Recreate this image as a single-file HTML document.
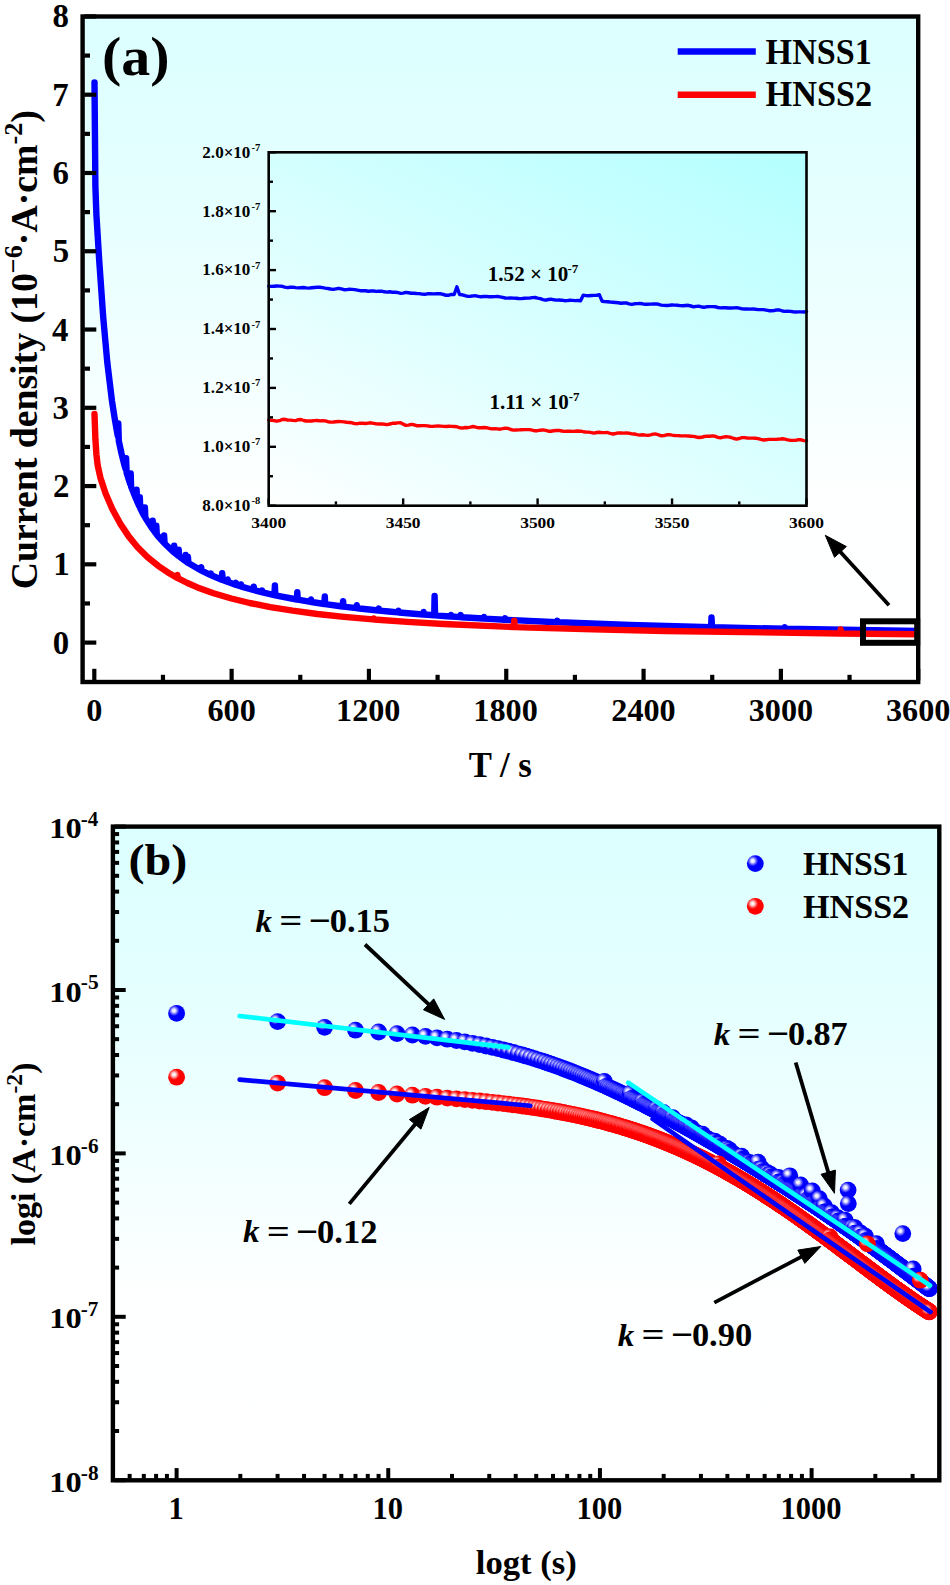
<!DOCTYPE html>
<html><head><meta charset="utf-8"><title>chart</title>
<style>html,body{margin:0;padding:0;background:#fff}svg{display:block}
text{font-family:"Liberation Serif",serif;font-weight:bold}</style></head>
<body><svg width="950" height="1585" viewBox="0 0 950 1585">
<rect width="950" height="1585" fill="#fff"/>
<defs>
<linearGradient id="bgA" gradientUnits="userSpaceOnUse" x1="0" y1="16.5" x2="0" y2="682.0">
<stop offset="0" stop-color="#dcffff"/><stop offset="0.29" stop-color="#e6ffff"/><stop offset="0.44" stop-color="#eeffff"/><stop offset="0.58" stop-color="#f6ffff"/><stop offset="0.72" stop-color="#feffff"/><stop offset="1" stop-color="#ffffff"/></linearGradient>
<linearGradient id="bgB" gradientUnits="userSpaceOnUse" x1="0" y1="826.6" x2="0" y2="1480.3">
<stop offset="0" stop-color="#dcffff"/><stop offset="0.29" stop-color="#e6ffff"/><stop offset="0.44" stop-color="#eeffff"/><stop offset="0.58" stop-color="#f6ffff"/><stop offset="0.72" stop-color="#feffff"/><stop offset="1" stop-color="#ffffff"/></linearGradient>
<linearGradient id="bgI" gradientUnits="userSpaceOnUse" x1="268.7" y1="505.7" x2="519.8" y2="7.4">
<stop offset="0" stop-color="#feffff"/><stop offset="1" stop-color="#b3ffff"/></linearGradient>
<radialGradient id="gB" cx="0.345" cy="0.34" r="0.32" fx="0.345" fy="0.34">
<stop offset="0" stop-color="#ffffff"/><stop offset="0.3" stop-color="#e4e4ff"/><stop offset="0.68" stop-color="#6060ff"/><stop offset="1" stop-color="#0000ff"/></radialGradient>
<radialGradient id="gR" cx="0.345" cy="0.34" r="0.32" fx="0.345" fy="0.34">
<stop offset="0" stop-color="#ffffff"/><stop offset="0.3" stop-color="#ffe4e4"/><stop offset="0.68" stop-color="#ff6060"/><stop offset="1" stop-color="#ff0000"/></radialGradient>
<clipPath id="cA"><rect x="82.6" y="16.5" width="835.6" height="665.5"/></clipPath>
<clipPath id="cB"><rect x="112.9" y="826.6" width="826.4" height="653.7"/></clipPath>
</defs><rect x="82.6" y="16.5" width="835.6" height="665.5" fill="url(#bgA)"/><rect x="268.7" y="152.3" width="537.8" height="353.4" fill="url(#bgI)"/><g clip-path="url(#cA)"><path d="M94.5,82.4 L95.4,186.6 L96.4,214.6 L99.1,258.8 L103.2,317.1 L107.3,362.5 L111.9,400.4 L114.7,418.5 L117.4,434.0 L117.9,436.4 L118.3,423.4 L118.8,441.0 L121.5,453.5 L124.7,466.1 L125.7,469.4 L126.1,458.1 L126.6,472.5 L127.0,474.1 L130.2,484.0 L130.7,473.5 L131.1,486.6 L136.2,499.4 L136.6,489.8 L137.1,501.5 L139.4,506.5 L139.8,497.3 L140.3,508.4 L143.0,513.7 L144.4,516.2 L144.9,507.5 L145.3,517.7 L152.2,528.5 L152.7,520.6 L153.1,529.7 L155.4,532.8 L155.9,533.4 L156.3,525.8 L156.8,534.6 L159.1,537.4 L163.6,542.5 L164.1,535.5 L164.6,543.5 L173.7,552.1 L174.2,545.7 L174.6,552.8 L178.3,555.8 L178.7,549.7 L179.2,556.5 L185.2,560.8 L185.6,555.0 L186.1,561.4 L186.5,561.7 L187.4,562.4 L187.9,556.7 L188.4,563.0 L200.7,570.2 L201.2,567.2 L201.6,570.7 L207.1,573.4 L210.3,574.9 L210.8,573.6 L211.2,575.3 L221.8,579.7 L222.2,573.3 L222.7,580.1 L227.3,581.8 L227.7,579.5 L228.2,582.1 L235.5,584.7 L236.0,582.8 L236.4,585.0 L240.5,586.3 L241.0,584.4 L241.5,586.6 L253.4,590.0 L253.8,586.6 L254.3,590.2 L261.6,592.1 L262.1,590.6 L262.5,592.3 L274.4,595.1 L274.9,585.4 L275.3,595.3 L296.8,599.5 L297.3,592.3 L297.8,599.7 L310.6,601.9 L311.0,599.5 L311.5,602.0 L324.3,604.0 L324.8,596.4 L325.2,604.1 L342.6,606.5 L343.1,601.1 L343.5,606.6 L356.3,608.1 L356.8,605.2 L357.3,608.2 L378.3,610.5 L378.8,608.5 L379.2,610.6 L388.8,611.5 L398.0,612.4 L398.5,610.9 L398.9,612.5 L423.2,614.5 L423.6,612.0 L424.1,614.5 L434.2,615.3 L434.6,595.9 L435.1,615.4 L437.8,615.6 L450.6,616.5 L451.1,615.0 L451.6,616.5 L460.2,617.1 L460.7,615.1 L461.2,617.2 L483.6,618.5 L484.1,617.1 L484.5,618.6 L504.6,619.7 L505.1,618.2 L505.6,619.8 L556.8,622.2 L557.3,620.7 L557.7,622.2 L558.7,622.2 L630.1,624.9 L711.1,627.1 L711.5,617.4 L712.0,627.2 L784.3,628.8 L784.8,627.3 L785.2,628.8 L918.0,630.9" fill="none" stroke="#0000ff" stroke-width="6.4" stroke-linejoin="round" stroke-linecap="round"/><path d="M94.5,414.0 L95.4,439.3 L96.4,454.3 L97.7,465.5 L100.5,478.0 L105.5,493.2 L112.4,509.2 L120.2,523.6 L128.9,536.6 L137.6,547.2 L147.6,557.2 L158.2,565.8 L170.1,573.8 L176.9,577.7 L177.4,575.0 L177.8,578.2 L187.4,583.0 L197.5,587.4 L213.5,593.2 L231.4,598.5 L249.7,603.0 L270.3,607.1 L292.7,610.7 L317.4,614.0 L344.0,616.9 L372.8,619.4 L373.3,619.4 L373.7,618.5 L374.2,619.5 L407.2,621.9 L443.8,624.0 L513.8,627.0 L514.3,620.7 L514.7,627.1 L530.3,627.6 L593.0,629.4 L664.9,631.0 L840.2,633.5 L840.6,629.5 L841.1,633.5 L918.0,634.2" fill="none" stroke="#ff0000" stroke-width="6.4" stroke-linejoin="round" stroke-linecap="round"/></g><rect x="863" y="621.3" width="54.200000000000045" height="21.5" fill="none" stroke="#000" stroke-width="6"/><line x1="889.00" y1="605.30" x2="839.10" y2="550.46" stroke="#000" stroke-width="3.8" stroke-linecap="butt"/><polygon points="825.30,535.30 846.36,546.56 834.53,557.33" fill="#000" stroke="#000" stroke-width="1" stroke-linejoin="round"/><rect x="82.6" y="16.5" width="835.6" height="665.5" fill="none" stroke="#000" stroke-width="4.4"/><line x1="84.30" y1="642.60" x2="96.30" y2="642.60" stroke="#000" stroke-width="4.2" stroke-linecap="butt"/><line x1="84.30" y1="564.33" x2="96.30" y2="564.33" stroke="#000" stroke-width="4.2" stroke-linecap="butt"/><line x1="84.30" y1="486.06" x2="96.30" y2="486.06" stroke="#000" stroke-width="4.2" stroke-linecap="butt"/><line x1="84.30" y1="407.79" x2="96.30" y2="407.79" stroke="#000" stroke-width="4.2" stroke-linecap="butt"/><line x1="84.30" y1="329.52" x2="96.30" y2="329.52" stroke="#000" stroke-width="4.2" stroke-linecap="butt"/><line x1="84.30" y1="251.25" x2="96.30" y2="251.25" stroke="#000" stroke-width="4.2" stroke-linecap="butt"/><line x1="84.30" y1="172.98" x2="96.30" y2="172.98" stroke="#000" stroke-width="4.2" stroke-linecap="butt"/><line x1="84.30" y1="94.71" x2="96.30" y2="94.71" stroke="#000" stroke-width="4.2" stroke-linecap="butt"/><line x1="84.30" y1="16.44" x2="96.30" y2="16.44" stroke="#000" stroke-width="4.2" stroke-linecap="butt"/><line x1="84.30" y1="603.47" x2="90.00" y2="603.47" stroke="#000" stroke-width="4.2" stroke-linecap="butt"/><line x1="84.30" y1="525.20" x2="90.00" y2="525.20" stroke="#000" stroke-width="4.2" stroke-linecap="butt"/><line x1="84.30" y1="446.93" x2="90.00" y2="446.93" stroke="#000" stroke-width="4.2" stroke-linecap="butt"/><line x1="84.30" y1="368.66" x2="90.00" y2="368.66" stroke="#000" stroke-width="4.2" stroke-linecap="butt"/><line x1="84.30" y1="290.39" x2="90.00" y2="290.39" stroke="#000" stroke-width="4.2" stroke-linecap="butt"/><line x1="84.30" y1="212.12" x2="90.00" y2="212.12" stroke="#000" stroke-width="4.2" stroke-linecap="butt"/><line x1="84.30" y1="133.85" x2="90.00" y2="133.85" stroke="#000" stroke-width="4.2" stroke-linecap="butt"/><line x1="84.30" y1="55.58" x2="90.00" y2="55.58" stroke="#000" stroke-width="4.2" stroke-linecap="butt"/><line x1="94.30" y1="680.30" x2="94.30" y2="668.80" stroke="#000" stroke-width="4.2" stroke-linecap="butt"/><line x1="231.62" y1="680.30" x2="231.62" y2="668.80" stroke="#000" stroke-width="4.2" stroke-linecap="butt"/><line x1="368.93" y1="680.30" x2="368.93" y2="668.80" stroke="#000" stroke-width="4.2" stroke-linecap="butt"/><line x1="506.25" y1="680.30" x2="506.25" y2="668.80" stroke="#000" stroke-width="4.2" stroke-linecap="butt"/><line x1="643.57" y1="680.30" x2="643.57" y2="668.80" stroke="#000" stroke-width="4.2" stroke-linecap="butt"/><line x1="780.88" y1="680.30" x2="780.88" y2="668.80" stroke="#000" stroke-width="4.2" stroke-linecap="butt"/><line x1="918.20" y1="680.30" x2="918.20" y2="668.80" stroke="#000" stroke-width="4.2" stroke-linecap="butt"/><line x1="162.96" y1="680.30" x2="162.96" y2="674.80" stroke="#000" stroke-width="4.2" stroke-linecap="butt"/><line x1="300.28" y1="680.30" x2="300.28" y2="674.80" stroke="#000" stroke-width="4.2" stroke-linecap="butt"/><line x1="437.59" y1="680.30" x2="437.59" y2="674.80" stroke="#000" stroke-width="4.2" stroke-linecap="butt"/><line x1="574.91" y1="680.30" x2="574.91" y2="674.80" stroke="#000" stroke-width="4.2" stroke-linecap="butt"/><line x1="712.23" y1="680.30" x2="712.23" y2="674.80" stroke="#000" stroke-width="4.2" stroke-linecap="butt"/><line x1="849.54" y1="680.30" x2="849.54" y2="674.80" stroke="#000" stroke-width="4.2" stroke-linecap="butt"/><text transform="translate(52.73,653.60) scale(0.9660,1)" style="font-size:34px;" fill="#000">0</text><text transform="translate(53.18,575.33) scale(0.9660,1)" style="font-size:34px;" fill="#000">1</text><text transform="translate(52.89,497.06) scale(0.9660,1)" style="font-size:34px;" fill="#000">2</text><text transform="translate(52.60,418.79) scale(0.9660,1)" style="font-size:34px;" fill="#000">3</text><text transform="translate(52.09,340.52) scale(0.9660,1)" style="font-size:34px;" fill="#000">4</text><text transform="translate(52.68,262.25) scale(0.9660,1)" style="font-size:34px;" fill="#000">5</text><text transform="translate(52.44,183.98) scale(0.9660,1)" style="font-size:34px;" fill="#000">6</text><text transform="translate(52.28,105.71) scale(0.9660,1)" style="font-size:34px;" fill="#000">7</text><text transform="translate(52.57,27.44) scale(0.9660,1)" style="font-size:34px;" fill="#000">8</text><text transform="translate(86.25,720.70) scale(1.0000,1)" style="font-size:32.2px;" fill="#000">0</text><text transform="translate(207.53,720.70) scale(1.0000,1)" style="font-size:32.2px;" fill="#000">600</text><text transform="translate(336.06,720.70) scale(1.0000,1)" style="font-size:32.2px;" fill="#000">1200</text><text transform="translate(473.37,720.70) scale(1.0000,1)" style="font-size:32.2px;" fill="#000">1800</text><text transform="translate(611.30,720.70) scale(1.0000,1)" style="font-size:32.2px;" fill="#000">2400</text><text transform="translate(748.69,720.70) scale(1.0000,1)" style="font-size:32.2px;" fill="#000">3000</text><text transform="translate(886.01,720.70) scale(1.0000,1)" style="font-size:32.2px;" fill="#000">3600</text><text transform="translate(468.76,777.00) scale(0.9783,1)" style="font-size:35.5px;" fill="#000">T / s</text><text transform="translate(101.95,74.90) scale(1.0735,1)" style="font-size:54px;" fill="#000">(a)</text><text transform="translate(37.30,589.20) rotate(-90) scale(1.0070,1)" style="font-size:37.5px"><tspan style="font-size:37.5px">Current density (10</tspan><tspan style="font-size:26px" dy="-15.8">−6</tspan><tspan style="font-size:37.5px" dy="15.8">·A·cm</tspan><tspan style="font-size:26px" dy="-15.8">-2</tspan><tspan style="font-size:37.5px" dy="15.8">)</tspan></text><line x1="677.70" y1="51.50" x2="755.80" y2="51.50" stroke="#0000ff" stroke-width="6.5" stroke-linecap="butt"/><line x1="677.70" y1="94.70" x2="755.80" y2="94.70" stroke="#ff0000" stroke-width="6.5" stroke-linecap="butt"/><text transform="translate(765.62,63.60) scale(0.9662,1)" style="font-size:35.3px;" fill="#000">HNSS1</text><text transform="translate(765.61,106.30) scale(0.9699,1)" style="font-size:35.3px;" fill="#000">HNSS2</text><path d="M268.7,286.3 L271.4,286.4 L274.1,286.2 L276.8,286.0 L279.5,286.1 L282.1,286.3 L284.8,287.1 L287.5,287.6 L290.2,287.2 L292.9,287.1 L295.6,287.6 L298.3,287.9 L301.0,287.7 L303.7,287.5 L306.3,287.9 L309.0,288.1 L311.7,287.7 L314.4,287.5 L317.1,287.3 L319.8,287.2 L322.5,287.6 L325.2,288.1 L327.9,288.5 L330.5,289.0 L333.2,289.4 L335.9,288.8 L338.6,288.3 L341.3,288.9 L344.0,289.7 L346.7,289.6 L349.4,289.3 L352.1,289.4 L354.7,289.6 L357.4,290.1 L360.1,290.7 L362.8,290.6 L365.5,290.8 L368.2,291.2 L370.9,291.0 L373.6,291.0 L376.3,291.4 L378.9,291.2 L381.6,291.1 L384.3,291.8 L387.0,292.1 L389.7,291.8 L392.4,292.2 L395.1,292.3 L397.8,292.5 L400.5,293.4 L403.1,293.1 L405.8,292.4 L408.5,292.8 L411.2,293.2 L413.9,293.3 L416.6,293.5 L419.3,293.6 L422.0,294.1 L424.7,294.3 L427.4,293.8 L430.0,293.7 L432.7,293.9 L435.4,293.8 L438.1,293.6 L440.8,293.8 L443.5,294.5 L446.2,295.3 L448.9,295.2 L451.6,294.4 L454.2,294.5 L456.9,286.8 L459.6,294.5 L462.3,294.8 L465.0,295.7 L467.7,296.4 L470.4,296.3 L473.1,295.9 L475.8,295.8 L478.4,296.3 L481.1,296.8 L483.8,296.5 L486.5,296.4 L489.2,296.8 L491.9,296.8 L494.6,296.6 L497.3,296.5 L500.0,296.9 L502.6,297.4 L505.3,298.0 L508.0,298.1 L510.7,298.0 L513.4,298.1 L516.1,298.2 L518.8,298.5 L521.5,298.6 L524.2,298.3 L526.8,298.1 L529.5,298.1 L532.2,297.6 L534.9,297.5 L537.6,298.2 L540.3,298.7 L543.0,299.6 L545.7,300.2 L548.4,299.5 L551.0,299.2 L553.7,299.8 L556.4,300.1 L559.1,300.0 L561.8,300.2 L564.5,300.7 L567.2,300.6 L569.9,300.2 L572.6,300.4 L575.2,300.6 L577.9,300.5 L580.6,300.7 L583.3,295.1 L586.0,295.6 L588.7,295.8 L591.4,295.5 L594.1,295.4 L596.8,295.2 L599.4,294.8 L602.1,301.2 L604.8,301.6 L607.5,301.7 L610.2,302.0 L612.9,302.2 L615.6,302.5 L618.3,302.8 L621.0,303.2 L623.6,303.0 L626.3,302.9 L629.0,303.9 L631.7,304.4 L634.4,303.8 L637.1,303.6 L639.8,303.5 L642.5,303.8 L645.2,304.3 L647.8,304.2 L650.5,304.1 L653.2,304.0 L655.9,303.9 L658.6,304.3 L661.3,305.1 L664.0,305.4 L666.7,305.5 L669.4,305.3 L672.0,305.0 L674.7,305.1 L677.4,305.3 L680.1,305.6 L682.8,305.7 L685.5,305.5 L688.2,305.3 L690.9,306.0 L693.6,306.8 L696.3,306.4 L698.9,306.1 L701.6,307.0 L704.3,307.3 L707.0,306.7 L709.7,306.6 L712.4,306.6 L715.1,306.7 L717.8,307.5 L720.5,307.9 L723.1,307.7 L725.8,307.7 L728.5,308.0 L731.2,308.0 L733.9,307.9 L736.6,307.7 L739.3,308.1 L742.0,308.9 L744.7,309.0 L747.3,309.0 L750.0,309.1 L752.7,308.9 L755.4,309.2 L758.1,309.6 L760.8,309.6 L763.5,309.6 L766.2,310.1 L768.9,310.7 L771.5,310.8 L774.2,310.5 L776.9,309.9 L779.6,310.0 L782.3,311.0 L785.0,311.4 L787.7,311.2 L790.4,311.4 L793.1,311.8 L795.7,312.0 L798.4,311.9 L801.1,311.9 L803.8,312.0 L806.5,311.6" fill="none" stroke="#0000ff" stroke-width="3.4" stroke-linejoin="round" stroke-linecap="round"/><path d="M268.7,420.0 L271.4,420.2 L274.1,420.6 L276.8,421.2 L279.5,420.7 L282.1,419.5 L284.8,419.3 L287.5,420.0 L290.2,420.1 L292.9,420.4 L295.6,420.6 L298.3,419.7 L301.0,419.5 L303.7,420.5 L306.3,421.0 L309.0,421.0 L311.7,421.0 L314.4,420.6 L317.1,420.5 L319.8,420.9 L322.5,420.8 L325.2,420.9 L327.9,421.7 L330.5,422.1 L333.2,422.0 L335.9,421.7 L338.6,421.5 L341.3,421.6 L344.0,421.9 L346.7,422.3 L349.4,422.5 L352.1,422.8 L354.7,423.6 L357.4,423.7 L360.1,423.1 L362.8,423.3 L365.5,423.5 L368.2,423.1 L370.9,422.8 L373.6,423.3 L376.3,423.9 L378.9,424.0 L381.6,423.9 L384.3,424.2 L387.0,424.6 L389.7,424.0 L392.4,423.3 L395.1,423.3 L397.8,422.9 L400.5,422.7 L403.1,424.1 L405.8,425.4 L408.5,425.1 L411.2,424.4 L413.9,424.8 L416.6,425.7 L419.3,425.8 L422.0,425.6 L424.7,425.6 L427.4,425.9 L430.0,426.3 L432.7,426.4 L435.4,426.1 L438.1,425.9 L440.8,426.1 L443.5,426.4 L446.2,426.5 L448.9,426.3 L451.6,426.4 L454.2,426.5 L456.9,426.7 L459.6,427.8 L462.3,428.1 L465.0,427.5 L467.7,427.7 L470.4,427.2 L473.1,426.5 L475.8,427.2 L478.4,427.8 L481.1,427.7 L483.8,427.5 L486.5,427.7 L489.2,428.3 L491.9,428.9 L494.6,428.8 L497.3,428.9 L500.0,429.2 L502.6,428.7 L505.3,428.1 L508.0,428.4 L510.7,429.5 L513.4,430.1 L516.1,430.0 L518.8,429.9 L521.5,429.7 L524.2,429.6 L526.8,429.6 L529.5,429.6 L532.2,430.2 L534.9,430.8 L537.6,430.7 L540.3,430.2 L543.0,429.9 L545.7,430.4 L548.4,431.2 L551.0,431.2 L553.7,430.8 L556.4,430.5 L559.1,430.4 L561.8,431.0 L564.5,431.4 L567.2,431.2 L569.9,431.1 L572.6,431.4 L575.2,431.2 L577.9,431.0 L580.6,431.2 L583.3,431.7 L586.0,432.0 L588.7,432.1 L591.4,432.6 L594.1,433.1 L596.8,432.5 L599.4,432.2 L602.1,432.6 L604.8,432.6 L607.5,432.5 L610.2,433.4 L612.9,434.0 L615.6,433.5 L618.3,432.9 L621.0,433.0 L623.6,433.1 L626.3,432.9 L629.0,433.2 L631.7,433.9 L634.4,434.0 L637.1,434.6 L639.8,435.1 L642.5,434.8 L645.2,435.1 L647.8,435.4 L650.5,434.8 L653.2,434.1 L655.9,434.0 L658.6,434.9 L661.3,435.8 L664.0,435.6 L666.7,434.8 L669.4,434.6 L672.0,435.1 L674.7,435.5 L677.4,435.6 L680.1,435.8 L682.8,435.9 L685.5,435.9 L688.2,436.0 L690.9,436.2 L693.6,436.4 L696.3,437.0 L698.9,437.5 L701.6,437.3 L704.3,436.5 L707.0,436.1 L709.7,436.3 L712.4,435.9 L715.1,436.2 L717.8,437.4 L720.5,437.8 L723.1,437.1 L725.8,436.7 L728.5,436.9 L731.2,437.5 L733.9,438.5 L736.6,439.1 L739.3,438.5 L742.0,437.6 L744.7,437.6 L747.3,438.0 L750.0,438.1 L752.7,438.1 L755.4,438.2 L758.1,438.6 L760.8,439.4 L763.5,440.0 L766.2,439.7 L768.9,439.4 L771.5,439.4 L774.2,439.4 L776.9,439.3 L779.6,439.1 L782.3,438.8 L785.0,439.1 L787.7,439.9 L790.4,440.2 L793.1,440.4 L795.7,440.4 L798.4,439.7 L801.1,439.8 L803.8,440.6 L806.5,440.9" fill="none" stroke="#ff0000" stroke-width="3.4" stroke-linejoin="round" stroke-linecap="round"/><rect x="268.7" y="152.3" width="537.8" height="353.4" fill="none" stroke="#000" stroke-width="2.6"/><line x1="269.70" y1="505.70" x2="276.00" y2="505.70" stroke="#000" stroke-width="2.4" stroke-linecap="butt"/><line x1="269.70" y1="446.80" x2="276.00" y2="446.80" stroke="#000" stroke-width="2.4" stroke-linecap="butt"/><line x1="269.70" y1="387.90" x2="276.00" y2="387.90" stroke="#000" stroke-width="2.4" stroke-linecap="butt"/><line x1="269.70" y1="329.00" x2="276.00" y2="329.00" stroke="#000" stroke-width="2.4" stroke-linecap="butt"/><line x1="269.70" y1="270.10" x2="276.00" y2="270.10" stroke="#000" stroke-width="2.4" stroke-linecap="butt"/><line x1="269.70" y1="211.20" x2="276.00" y2="211.20" stroke="#000" stroke-width="2.4" stroke-linecap="butt"/><line x1="269.70" y1="152.30" x2="276.00" y2="152.30" stroke="#000" stroke-width="2.4" stroke-linecap="butt"/><line x1="269.70" y1="476.25" x2="273.00" y2="476.25" stroke="#000" stroke-width="2.4" stroke-linecap="butt"/><line x1="269.70" y1="417.35" x2="273.00" y2="417.35" stroke="#000" stroke-width="2.4" stroke-linecap="butt"/><line x1="269.70" y1="358.45" x2="273.00" y2="358.45" stroke="#000" stroke-width="2.4" stroke-linecap="butt"/><line x1="269.70" y1="299.55" x2="273.00" y2="299.55" stroke="#000" stroke-width="2.4" stroke-linecap="butt"/><line x1="269.70" y1="240.65" x2="273.00" y2="240.65" stroke="#000" stroke-width="2.4" stroke-linecap="butt"/><line x1="269.70" y1="181.75" x2="273.00" y2="181.75" stroke="#000" stroke-width="2.4" stroke-linecap="butt"/><line x1="268.70" y1="504.70" x2="268.70" y2="498.40" stroke="#000" stroke-width="2.4" stroke-linecap="butt"/><line x1="403.15" y1="504.70" x2="403.15" y2="498.40" stroke="#000" stroke-width="2.4" stroke-linecap="butt"/><line x1="537.60" y1="504.70" x2="537.60" y2="498.40" stroke="#000" stroke-width="2.4" stroke-linecap="butt"/><line x1="672.05" y1="504.70" x2="672.05" y2="498.40" stroke="#000" stroke-width="2.4" stroke-linecap="butt"/><line x1="806.50" y1="504.70" x2="806.50" y2="498.40" stroke="#000" stroke-width="2.4" stroke-linecap="butt"/><line x1="335.92" y1="504.70" x2="335.92" y2="501.40" stroke="#000" stroke-width="2.4" stroke-linecap="butt"/><line x1="470.38" y1="504.70" x2="470.38" y2="501.40" stroke="#000" stroke-width="2.4" stroke-linecap="butt"/><line x1="604.83" y1="504.70" x2="604.83" y2="501.40" stroke="#000" stroke-width="2.4" stroke-linecap="butt"/><line x1="739.27" y1="504.70" x2="739.27" y2="501.40" stroke="#000" stroke-width="2.4" stroke-linecap="butt"/><text transform="translate(251.50,504.20) scale(1.0000,1)" style="font-size:10.5px;" fill="#000">-8</text><text transform="translate(202.35,511.00) scale(1.0660,1)" style="font-size:16px;" fill="#000">8.0×10</text><text transform="translate(251.41,445.30) scale(1.0000,1)" style="font-size:10.5px;" fill="#000">-7</text><text transform="translate(202.35,452.10) scale(1.0660,1)" style="font-size:16px;" fill="#000">1.0×10</text><text transform="translate(251.41,386.40) scale(1.0000,1)" style="font-size:10.5px;" fill="#000">-7</text><text transform="translate(202.35,393.20) scale(1.0660,1)" style="font-size:16px;" fill="#000">1.2×10</text><text transform="translate(251.41,327.50) scale(1.0000,1)" style="font-size:10.5px;" fill="#000">-7</text><text transform="translate(202.35,334.30) scale(1.0660,1)" style="font-size:16px;" fill="#000">1.4×10</text><text transform="translate(251.41,268.60) scale(1.0000,1)" style="font-size:10.5px;" fill="#000">-7</text><text transform="translate(202.35,275.40) scale(1.0660,1)" style="font-size:16px;" fill="#000">1.6×10</text><text transform="translate(251.41,209.70) scale(1.0000,1)" style="font-size:10.5px;" fill="#000">-7</text><text transform="translate(202.35,216.50) scale(1.0660,1)" style="font-size:16px;" fill="#000">1.8×10</text><text transform="translate(251.41,150.80) scale(1.0000,1)" style="font-size:10.5px;" fill="#000">-7</text><text transform="translate(202.35,157.60) scale(1.0660,1)" style="font-size:16px;" fill="#000">2.0×10</text><text transform="translate(251.30,527.60) scale(1.1231,1)" style="font-size:15.5px;" fill="#000">3400</text><text transform="translate(385.75,527.60) scale(1.1231,1)" style="font-size:15.5px;" fill="#000">3450</text><text transform="translate(520.20,527.60) scale(1.1231,1)" style="font-size:15.5px;" fill="#000">3500</text><text transform="translate(654.65,527.60) scale(1.1231,1)" style="font-size:15.5px;" fill="#000">3550</text><text transform="translate(789.10,527.60) scale(1.1231,1)" style="font-size:15.5px;" fill="#000">3600</text><text transform="translate(487.81,280.90) scale(1.0536,1)" style="font-size:20px;" fill="#000">1.52 × 10</text><text transform="translate(567.39,272.70) scale(1.0000,1)" style="font-size:13px;" fill="#000">-7</text><text transform="translate(489.41,408.70) scale(1.0536,1)" style="font-size:20px;" fill="#000">1.11 × 10</text><text transform="translate(568.69,400.50) scale(1.0000,1)" style="font-size:13px;" fill="#000">-7</text><rect x="112.9" y="826.6" width="826.4" height="653.6999999999999" fill="url(#bgB)"/><g clip-path="url(#cB)"><g fill="url(#gB)"><circle cx="176.6" cy="1013.3" r="8.4"/><circle cx="277.6" cy="1021.6" r="8.4"/><circle cx="324.6" cy="1027.3" r="8.4"/><circle cx="355.5" cy="1030.2" r="8.4"/><circle cx="378.6" cy="1032.0" r="8.4"/><circle cx="397.0" cy="1033.6" r="8.4"/><circle cx="412.4" cy="1035.0" r="8.4"/><circle cx="425.5" cy="1036.4" r="8.4"/><circle cx="437.0" cy="1037.8" r="8.4"/><circle cx="447.3" cy="1039.2" r="8.4"/><circle cx="456.5" cy="1040.5" r="8.4"/><circle cx="464.8" cy="1041.9" r="8.4"/><circle cx="472.5" cy="1043.3" r="8.4"/><circle cx="479.6" cy="1044.6" r="8.4"/><circle cx="486.1" cy="1046.0" r="8.4"/><circle cx="492.3" cy="1047.3" r="8.4"/><circle cx="498.0" cy="1048.6" r="8.4"/><circle cx="503.4" cy="1050.0" r="8.4"/><circle cx="508.5" cy="1051.2" r="8.4"/><circle cx="513.4" cy="1052.5" r="8.4"/><circle cx="518.0" cy="1053.8" r="8.4"/><circle cx="522.4" cy="1055.0" r="8.4"/><circle cx="526.5" cy="1056.2" r="8.4"/><circle cx="530.5" cy="1057.4" r="8.4"/><circle cx="534.4" cy="1058.6" r="8.4"/><circle cx="538.0" cy="1059.8" r="8.4"/><circle cx="541.6" cy="1060.9" r="8.4"/><circle cx="545.0" cy="1062.0" r="8.4"/><circle cx="548.3" cy="1063.2" r="8.4"/><circle cx="551.4" cy="1064.2" r="8.4"/><circle cx="554.5" cy="1065.3" r="8.4"/><circle cx="557.5" cy="1066.4" r="8.4"/><circle cx="560.3" cy="1067.4" r="8.4"/><circle cx="563.1" cy="1068.5" r="8.4"/><circle cx="565.8" cy="1069.5" r="8.4"/><circle cx="568.5" cy="1070.5" r="8.4"/><circle cx="571.0" cy="1071.5" r="8.4"/><circle cx="573.5" cy="1072.4" r="8.4"/><circle cx="575.9" cy="1073.4" r="8.4"/><circle cx="578.3" cy="1074.3" r="8.4"/><circle cx="580.6" cy="1075.3" r="8.4"/><circle cx="582.8" cy="1076.2" r="8.4"/><circle cx="585.0" cy="1077.1" r="8.4"/><circle cx="587.1" cy="1078.0" r="8.4"/><circle cx="589.2" cy="1078.9" r="8.4"/><circle cx="591.3" cy="1079.7" r="8.4"/><circle cx="593.3" cy="1080.6" r="8.4"/><circle cx="595.2" cy="1081.4" r="8.4"/><circle cx="597.1" cy="1082.3" r="8.4"/><circle cx="599.0" cy="1083.1" r="8.4"/><circle cx="600.9" cy="1083.9" r="8.4"/><circle cx="602.7" cy="1084.7" r="8.4"/><circle cx="604.4" cy="1081.4" r="8.4"/><circle cx="606.2" cy="1086.3" r="8.4"/><circle cx="607.9" cy="1087.0" r="8.4"/><circle cx="609.5" cy="1087.8" r="8.4"/><circle cx="611.2" cy="1088.6" r="8.4"/><circle cx="612.8" cy="1089.3" r="8.4"/><circle cx="614.4" cy="1090.0" r="8.4"/><circle cx="615.9" cy="1090.8" r="8.4"/><circle cx="617.5" cy="1091.5" r="8.4"/><circle cx="619.0" cy="1092.2" r="8.4"/><circle cx="620.5" cy="1092.9" r="8.4"/><circle cx="621.9" cy="1093.6" r="8.4"/><circle cx="623.3" cy="1094.3" r="8.4"/><circle cx="624.8" cy="1095.0" r="8.4"/><circle cx="626.2" cy="1095.6" r="8.4"/><circle cx="627.5" cy="1096.3" r="8.4"/><circle cx="628.9" cy="1097.0" r="8.4"/><circle cx="630.2" cy="1093.5" r="8.4"/><circle cx="631.5" cy="1098.3" r="8.4"/><circle cx="632.8" cy="1098.9" r="8.4"/><circle cx="634.1" cy="1099.5" r="8.4"/><circle cx="635.4" cy="1100.2" r="8.4"/><circle cx="636.6" cy="1100.8" r="8.4"/><circle cx="637.8" cy="1101.4" r="8.4"/><circle cx="639.0" cy="1102.0" r="8.4"/><circle cx="640.2" cy="1102.6" r="8.4"/><circle cx="641.4" cy="1103.2" r="8.4"/><circle cx="642.6" cy="1101.7" r="8.4"/><circle cx="643.7" cy="1104.4" r="8.4"/><circle cx="644.9" cy="1104.9" r="8.4"/><circle cx="646.0" cy="1105.5" r="8.4"/><circle cx="647.1" cy="1106.1" r="8.4"/><circle cx="648.2" cy="1106.6" r="8.4"/><circle cx="649.3" cy="1107.2" r="8.4"/><circle cx="650.3" cy="1107.7" r="8.4"/><circle cx="651.4" cy="1108.3" r="8.4"/><circle cx="652.4" cy="1108.8" r="8.4"/><circle cx="653.5" cy="1109.4" r="8.4"/><circle cx="654.5" cy="1109.9" r="8.4"/><circle cx="655.5" cy="1110.4" r="8.4"/><circle cx="656.5" cy="1108.9" r="8.4"/><circle cx="657.5" cy="1111.5" r="8.4"/><circle cx="658.5" cy="1112.0" r="8.4"/><circle cx="659.4" cy="1112.5" r="8.4"/><circle cx="660.4" cy="1113.0" r="8.4"/><circle cx="661.3" cy="1113.5" r="8.4"/><circle cx="662.3" cy="1114.0" r="8.4"/><circle cx="663.2" cy="1112.4" r="8.4"/><circle cx="664.1" cy="1115.0" r="8.4"/><circle cx="665.0" cy="1115.5" r="8.4"/><circle cx="665.9" cy="1116.0" r="8.4"/><circle cx="666.8" cy="1116.4" r="8.4"/><circle cx="667.7" cy="1116.9" r="8.4"/><circle cx="668.6" cy="1117.4" r="8.4"/><circle cx="669.4" cy="1117.8" r="8.4"/><circle cx="670.3" cy="1118.3" r="8.4"/><circle cx="671.2" cy="1118.8" r="8.4"/><circle cx="672.0" cy="1119.2" r="8.4"/><circle cx="672.8" cy="1117.6" r="8.4"/><circle cx="673.7" cy="1120.1" r="8.4"/><circle cx="674.5" cy="1120.6" r="8.4"/><circle cx="675.3" cy="1121.0" r="8.4"/><circle cx="676.1" cy="1121.5" r="8.4"/><circle cx="676.9" cy="1121.9" r="8.4"/><circle cx="677.7" cy="1122.3" r="8.4"/><circle cx="678.5" cy="1122.8" r="8.4"/><circle cx="679.3" cy="1123.2" r="8.4"/><circle cx="680.0" cy="1123.6" r="8.4"/><circle cx="680.8" cy="1124.0" r="8.4"/><circle cx="681.6" cy="1124.4" r="8.4"/><circle cx="682.3" cy="1124.9" r="8.4"/><circle cx="683.1" cy="1125.3" r="8.4"/><circle cx="683.8" cy="1125.7" r="8.4"/><circle cx="684.5" cy="1126.1" r="8.4"/><circle cx="685.3" cy="1126.5" r="8.4"/><circle cx="686.0" cy="1124.8" r="8.4"/><circle cx="686.7" cy="1127.3" r="8.4"/><circle cx="687.4" cy="1127.7" r="8.4"/><circle cx="688.1" cy="1128.1" r="8.4"/><circle cx="688.8" cy="1128.5" r="8.4"/><circle cx="689.5" cy="1128.9" r="8.4"/><circle cx="690.2" cy="1129.3" r="8.4"/><circle cx="690.9" cy="1129.6" r="8.4"/><circle cx="691.6" cy="1128.0" r="8.4"/><circle cx="692.3" cy="1130.4" r="8.4"/><circle cx="692.9" cy="1130.8" r="8.4"/><circle cx="693.6" cy="1131.2" r="8.4"/><circle cx="694.3" cy="1131.5" r="8.4"/><circle cx="694.9" cy="1131.9" r="8.4"/><circle cx="695.6" cy="1132.3" r="8.4"/><circle cx="696.2" cy="1132.6" r="8.4"/><circle cx="696.9" cy="1133.0" r="8.4"/><circle cx="697.5" cy="1133.4" r="8.4"/><circle cx="698.1" cy="1133.7" r="8.4"/><circle cx="698.8" cy="1134.1" r="8.4"/><circle cx="699.4" cy="1134.4" r="8.4"/><circle cx="700.0" cy="1134.8" r="8.4"/><circle cx="700.6" cy="1135.1" r="8.4"/><circle cx="701.2" cy="1135.5" r="8.4"/><circle cx="701.8" cy="1135.8" r="8.4"/><circle cx="702.5" cy="1134.1" r="8.4"/><circle cx="703.1" cy="1136.5" r="8.4"/><circle cx="703.6" cy="1136.9" r="8.4"/><circle cx="704.2" cy="1137.2" r="8.4"/><circle cx="704.8" cy="1137.5" r="8.4"/><circle cx="705.4" cy="1137.9" r="8.4"/><circle cx="706.0" cy="1138.2" r="8.4"/><circle cx="706.6" cy="1138.5" r="8.4"/><circle cx="707.2" cy="1138.9" r="8.4"/><circle cx="707.7" cy="1139.2" r="8.4"/><circle cx="708.3" cy="1139.5" r="8.4"/><circle cx="708.9" cy="1139.8" r="8.4"/><circle cx="709.4" cy="1140.2" r="8.4"/><circle cx="710.0" cy="1140.5" r="8.4"/><circle cx="710.5" cy="1140.8" r="8.4"/><circle cx="711.1" cy="1141.1" r="8.4"/><circle cx="711.6" cy="1141.4" r="8.4"/><circle cx="712.2" cy="1141.8" r="8.4"/><circle cx="712.7" cy="1142.1" r="8.4"/><circle cx="713.2" cy="1142.4" r="8.4"/><circle cx="713.8" cy="1142.7" r="8.4"/><circle cx="714.3" cy="1143.0" r="8.4"/><circle cx="714.8" cy="1141.2" r="8.4"/><circle cx="715.4" cy="1143.6" r="8.4"/><circle cx="715.9" cy="1143.9" r="8.4"/><circle cx="716.4" cy="1144.2" r="8.4"/><circle cx="716.9" cy="1144.5" r="8.4"/><circle cx="717.4" cy="1144.8" r="8.4"/><circle cx="717.9" cy="1145.1" r="8.4"/><circle cx="718.5" cy="1145.4" r="8.4"/><circle cx="719.0" cy="1145.7" r="8.4"/><circle cx="719.5" cy="1146.0" r="8.4"/><circle cx="720.0" cy="1144.2" r="8.4"/><circle cx="720.5" cy="1146.6" r="8.4"/><circle cx="721.0" cy="1146.9" r="8.4"/><circle cx="721.4" cy="1147.2" r="8.4"/><circle cx="721.9" cy="1147.4" r="8.4"/><circle cx="722.4" cy="1147.7" r="8.4"/><circle cx="722.9" cy="1148.0" r="8.4"/><circle cx="723.4" cy="1148.3" r="8.4"/><circle cx="723.9" cy="1148.6" r="8.4"/><circle cx="724.3" cy="1148.9" r="8.4"/><circle cx="724.8" cy="1149.1" r="8.4"/><circle cx="725.3" cy="1149.4" r="8.4"/><circle cx="725.8" cy="1149.7" r="8.4"/><circle cx="726.2" cy="1150.0" r="8.4"/><circle cx="726.7" cy="1150.2" r="8.4"/><circle cx="727.1" cy="1148.5" r="8.4"/><circle cx="727.6" cy="1150.8" r="8.4"/><circle cx="728.1" cy="1151.1" r="8.4"/><circle cx="728.5" cy="1151.3" r="8.4"/><circle cx="729.0" cy="1151.6" r="8.4"/><circle cx="729.4" cy="1149.8" r="8.4"/><circle cx="729.9" cy="1152.1" r="8.4"/><circle cx="730.3" cy="1152.4" r="8.4"/><circle cx="730.8" cy="1152.7" r="8.4"/><circle cx="731.2" cy="1152.9" r="8.4"/><circle cx="731.6" cy="1153.2" r="8.4"/><circle cx="732.1" cy="1153.4" r="8.4"/><circle cx="732.5" cy="1153.7" r="8.4"/><circle cx="733.0" cy="1154.0" r="8.4"/><circle cx="733.4" cy="1154.2" r="8.4"/><circle cx="733.8" cy="1154.5" r="8.4"/><circle cx="734.2" cy="1154.7" r="8.4"/><circle cx="734.7" cy="1155.0" r="8.4"/><circle cx="735.1" cy="1155.2" r="8.4"/><circle cx="735.5" cy="1155.5" r="8.4"/><circle cx="735.9" cy="1155.7" r="8.4"/><circle cx="736.3" cy="1156.0" r="8.4"/><circle cx="736.8" cy="1156.2" r="8.4"/><circle cx="737.2" cy="1156.5" r="8.4"/><circle cx="737.6" cy="1156.7" r="8.4"/><circle cx="738.0" cy="1157.0" r="8.4"/><circle cx="738.4" cy="1157.2" r="8.4"/><circle cx="738.8" cy="1157.5" r="8.4"/><circle cx="739.2" cy="1157.7" r="8.4"/><circle cx="739.6" cy="1157.9" r="8.4"/><circle cx="740.0" cy="1158.2" r="8.4"/><circle cx="740.4" cy="1158.4" r="8.4"/><circle cx="740.8" cy="1158.7" r="8.4"/><circle cx="741.2" cy="1158.9" r="8.4"/><circle cx="741.6" cy="1156.1" r="8.4"/><circle cx="742.0" cy="1159.4" r="8.4"/><circle cx="742.4" cy="1159.6" r="8.4"/><circle cx="742.8" cy="1159.9" r="8.4"/><circle cx="743.2" cy="1160.1" r="8.4"/><circle cx="743.6" cy="1160.3" r="8.4"/><circle cx="743.9" cy="1160.6" r="8.4"/><circle cx="744.3" cy="1160.8" r="8.4"/><circle cx="744.7" cy="1161.0" r="8.4"/><circle cx="745.1" cy="1161.2" r="8.4"/><circle cx="745.5" cy="1161.5" r="8.4"/><circle cx="745.8" cy="1161.7" r="8.4"/><circle cx="746.2" cy="1161.9" r="8.4"/><circle cx="746.6" cy="1162.2" r="8.4"/><circle cx="747.0" cy="1162.4" r="8.4"/><circle cx="747.3" cy="1162.6" r="8.4"/><circle cx="747.7" cy="1162.8" r="8.4"/><circle cx="748.1" cy="1163.1" r="8.4"/><circle cx="748.4" cy="1163.3" r="8.4"/><circle cx="748.8" cy="1163.5" r="8.4"/><circle cx="749.2" cy="1163.7" r="8.4"/><circle cx="749.5" cy="1162.4" r="8.4"/><circle cx="749.9" cy="1164.2" r="8.4"/><circle cx="750.3" cy="1164.4" r="8.4"/><circle cx="750.6" cy="1164.6" r="8.4"/><circle cx="751.0" cy="1164.8" r="8.4"/><circle cx="751.3" cy="1165.0" r="8.4"/><circle cx="751.7" cy="1165.2" r="8.4"/><circle cx="752.0" cy="1165.5" r="8.4"/><circle cx="752.4" cy="1165.7" r="8.4"/><circle cx="752.7" cy="1165.9" r="8.4"/><circle cx="753.1" cy="1166.1" r="8.4"/><circle cx="753.4" cy="1166.3" r="8.4"/><circle cx="753.8" cy="1166.5" r="8.4"/><circle cx="754.1" cy="1166.7" r="8.4"/><circle cx="754.5" cy="1166.9" r="8.4"/><circle cx="754.8" cy="1167.2" r="8.4"/><circle cx="755.1" cy="1167.4" r="8.4"/><circle cx="755.5" cy="1167.6" r="8.4"/><circle cx="755.8" cy="1167.8" r="8.4"/><circle cx="756.1" cy="1168.0" r="8.4"/><circle cx="756.5" cy="1168.2" r="8.4"/><circle cx="756.8" cy="1168.4" r="8.4"/><circle cx="757.2" cy="1168.6" r="8.4"/><circle cx="757.5" cy="1168.8" r="8.4"/><circle cx="757.8" cy="1169.0" r="8.4"/><circle cx="758.1" cy="1162.1" r="8.4"/><circle cx="758.5" cy="1169.4" r="8.4"/><circle cx="758.8" cy="1169.6" r="8.4"/><circle cx="759.1" cy="1169.8" r="8.4"/><circle cx="759.5" cy="1170.0" r="8.4"/><circle cx="759.8" cy="1170.2" r="8.4"/><circle cx="760.1" cy="1170.4" r="8.4"/><circle cx="760.4" cy="1170.6" r="8.4"/><circle cx="760.7" cy="1170.8" r="8.4"/><circle cx="761.1" cy="1171.0" r="8.4"/><circle cx="761.4" cy="1171.2" r="8.4"/><circle cx="761.7" cy="1171.4" r="8.4"/><circle cx="762.0" cy="1168.7" r="8.4"/><circle cx="762.3" cy="1171.8" r="8.4"/><circle cx="762.6" cy="1172.0" r="8.4"/><circle cx="763.0" cy="1172.2" r="8.4"/><circle cx="763.3" cy="1172.4" r="8.4"/><circle cx="763.6" cy="1172.6" r="8.4"/><circle cx="763.9" cy="1172.8" r="8.4"/><circle cx="764.2" cy="1172.9" r="8.4"/><circle cx="764.5" cy="1173.1" r="8.4"/><circle cx="764.8" cy="1173.3" r="8.4"/><circle cx="765.1" cy="1173.5" r="8.4"/><circle cx="765.4" cy="1173.7" r="8.4"/><circle cx="765.7" cy="1173.9" r="8.4"/><circle cx="766.0" cy="1174.1" r="8.4"/><circle cx="766.3" cy="1174.3" r="8.4"/><circle cx="766.6" cy="1174.5" r="8.4"/><circle cx="766.9" cy="1174.6" r="8.4"/><circle cx="767.2" cy="1174.8" r="8.4"/><circle cx="767.5" cy="1172.6" r="8.4"/><circle cx="767.8" cy="1175.2" r="8.4"/><circle cx="768.1" cy="1175.4" r="8.4"/><circle cx="768.4" cy="1175.6" r="8.4"/><circle cx="768.7" cy="1175.8" r="8.4"/><circle cx="769.0" cy="1175.9" r="8.4"/><circle cx="769.3" cy="1176.1" r="8.4"/><circle cx="769.6" cy="1176.3" r="8.4"/><circle cx="769.9" cy="1176.5" r="8.4"/><circle cx="770.2" cy="1176.7" r="8.4"/><circle cx="770.4" cy="1176.8" r="8.4"/><circle cx="770.7" cy="1174.5" r="8.4"/><circle cx="771.0" cy="1177.2" r="8.4"/><circle cx="771.3" cy="1177.4" r="8.4"/><circle cx="771.6" cy="1177.6" r="8.4"/><circle cx="771.9" cy="1177.7" r="8.4"/><circle cx="772.2" cy="1177.9" r="8.4"/><circle cx="772.4" cy="1178.1" r="8.4"/><circle cx="772.7" cy="1178.3" r="8.4"/><circle cx="773.0" cy="1178.4" r="8.4"/><circle cx="773.3" cy="1178.6" r="8.4"/><circle cx="773.6" cy="1178.8" r="8.4"/><circle cx="773.8" cy="1179.0" r="8.4"/><circle cx="774.1" cy="1179.1" r="8.4"/><circle cx="774.4" cy="1179.3" r="8.4"/><circle cx="774.7" cy="1179.5" r="8.4"/><circle cx="774.9" cy="1179.7" r="8.4"/><circle cx="775.2" cy="1179.8" r="8.4"/><circle cx="775.5" cy="1180.0" r="8.4"/><circle cx="775.8" cy="1180.2" r="8.4"/><circle cx="776.0" cy="1180.3" r="8.4"/><circle cx="776.3" cy="1180.5" r="8.4"/><circle cx="776.6" cy="1180.7" r="8.4"/><circle cx="776.8" cy="1180.9" r="8.4"/><circle cx="777.1" cy="1181.0" r="8.4"/><circle cx="777.4" cy="1181.2" r="8.4"/><circle cx="777.6" cy="1181.4" r="8.4"/><circle cx="777.9" cy="1181.5" r="8.4"/><circle cx="778.2" cy="1181.7" r="8.4"/><circle cx="778.4" cy="1177.3" r="8.4"/><circle cx="778.7" cy="1182.0" r="8.4"/><circle cx="779.0" cy="1182.2" r="8.4"/><circle cx="779.2" cy="1182.4" r="8.4"/><circle cx="779.5" cy="1182.5" r="8.4"/><circle cx="779.7" cy="1182.7" r="8.4"/><circle cx="780.0" cy="1182.9" r="8.4"/><circle cx="780.3" cy="1183.0" r="8.4"/><circle cx="780.5" cy="1183.2" r="8.4"/><circle cx="780.8" cy="1183.3" r="8.4"/><circle cx="781.0" cy="1183.5" r="8.4"/><circle cx="781.3" cy="1183.7" r="8.4"/><circle cx="781.5" cy="1183.8" r="8.4"/><circle cx="781.8" cy="1184.0" r="8.4"/><circle cx="782.0" cy="1184.2" r="8.4"/><circle cx="782.3" cy="1184.3" r="8.4"/><circle cx="782.8" cy="1184.6" r="8.4"/><circle cx="783.1" cy="1182.6" r="8.4"/><circle cx="783.3" cy="1185.0" r="8.4"/><circle cx="783.8" cy="1185.3" r="8.4"/><circle cx="784.3" cy="1185.6" r="8.4"/><circle cx="784.8" cy="1185.9" r="8.4"/><circle cx="785.3" cy="1186.2" r="8.4"/><circle cx="785.8" cy="1186.5" r="8.4"/><circle cx="786.3" cy="1186.8" r="8.4"/><circle cx="786.7" cy="1187.2" r="8.4"/><circle cx="787.2" cy="1187.5" r="8.4"/><circle cx="787.7" cy="1187.8" r="8.4"/><circle cx="788.2" cy="1188.1" r="8.4"/><circle cx="788.7" cy="1188.4" r="8.4"/><circle cx="789.1" cy="1188.7" r="8.4"/><circle cx="789.6" cy="1189.0" r="8.4"/><circle cx="789.8" cy="1175.8" r="8.4"/><circle cx="790.1" cy="1189.3" r="8.4"/><circle cx="790.5" cy="1189.6" r="8.4"/><circle cx="791.0" cy="1189.9" r="8.4"/><circle cx="791.4" cy="1190.2" r="8.4"/><circle cx="791.9" cy="1190.5" r="8.4"/><circle cx="792.4" cy="1190.8" r="8.4"/><circle cx="792.8" cy="1191.0" r="8.4"/><circle cx="793.3" cy="1191.3" r="8.4"/><circle cx="793.7" cy="1191.6" r="8.4"/><circle cx="794.1" cy="1191.9" r="8.4"/><circle cx="794.6" cy="1192.2" r="8.4"/><circle cx="795.0" cy="1192.5" r="8.4"/><circle cx="795.5" cy="1192.8" r="8.4"/><circle cx="795.9" cy="1193.1" r="8.4"/><circle cx="796.3" cy="1193.3" r="8.4"/><circle cx="796.8" cy="1193.6" r="8.4"/><circle cx="797.2" cy="1193.9" r="8.4"/><circle cx="797.6" cy="1194.2" r="8.4"/><circle cx="798.1" cy="1194.5" r="8.4"/><circle cx="798.5" cy="1194.7" r="8.4"/><circle cx="798.9" cy="1195.0" r="8.4"/><circle cx="799.3" cy="1195.3" r="8.4"/><circle cx="799.8" cy="1195.6" r="8.4"/><circle cx="800.2" cy="1195.8" r="8.4"/><circle cx="800.6" cy="1185.0" r="8.4"/><circle cx="800.8" cy="1196.2" r="8.4"/><circle cx="801.2" cy="1196.5" r="8.4"/><circle cx="801.6" cy="1196.8" r="8.4"/><circle cx="802.0" cy="1197.0" r="8.4"/><circle cx="802.4" cy="1197.3" r="8.4"/><circle cx="802.8" cy="1197.6" r="8.4"/><circle cx="803.2" cy="1197.8" r="8.4"/><circle cx="803.6" cy="1198.1" r="8.4"/><circle cx="804.0" cy="1198.4" r="8.4"/><circle cx="804.4" cy="1198.6" r="8.4"/><circle cx="804.8" cy="1198.9" r="8.4"/><circle cx="805.2" cy="1199.1" r="8.4"/><circle cx="805.6" cy="1199.4" r="8.4"/><circle cx="806.0" cy="1199.7" r="8.4"/><circle cx="806.4" cy="1199.9" r="8.4"/><circle cx="806.6" cy="1195.8" r="8.4"/><circle cx="806.8" cy="1200.2" r="8.4"/><circle cx="807.2" cy="1200.4" r="8.4"/><circle cx="807.6" cy="1200.7" r="8.4"/><circle cx="808.0" cy="1200.9" r="8.4"/><circle cx="808.3" cy="1201.2" r="8.4"/><circle cx="808.7" cy="1201.4" r="8.4"/><circle cx="809.1" cy="1201.7" r="8.4"/><circle cx="809.5" cy="1201.9" r="8.4"/><circle cx="809.8" cy="1202.2" r="8.4"/><circle cx="810.2" cy="1202.4" r="8.4"/><circle cx="810.6" cy="1202.7" r="8.4"/><circle cx="811.0" cy="1202.9" r="8.4"/><circle cx="811.3" cy="1203.2" r="8.4"/><circle cx="811.7" cy="1203.4" r="8.4"/><circle cx="812.1" cy="1203.7" r="8.4"/><circle cx="812.3" cy="1191.0" r="8.4"/><circle cx="812.4" cy="1203.9" r="8.4"/><circle cx="812.8" cy="1204.1" r="8.4"/><circle cx="813.2" cy="1204.4" r="8.4"/><circle cx="813.5" cy="1204.6" r="8.4"/><circle cx="813.9" cy="1204.9" r="8.4"/><circle cx="814.2" cy="1205.1" r="8.4"/><circle cx="814.6" cy="1205.3" r="8.4"/><circle cx="814.9" cy="1205.6" r="8.4"/><circle cx="815.3" cy="1205.8" r="8.4"/><circle cx="815.7" cy="1206.1" r="8.4"/><circle cx="816.0" cy="1206.3" r="8.4"/><circle cx="816.4" cy="1206.5" r="8.4"/><circle cx="816.7" cy="1206.8" r="8.4"/><circle cx="817.1" cy="1207.0" r="8.4"/><circle cx="817.4" cy="1207.2" r="8.4"/><circle cx="817.7" cy="1207.4" r="8.4"/><circle cx="818.1" cy="1207.7" r="8.4"/><circle cx="818.4" cy="1207.9" r="8.4"/><circle cx="818.8" cy="1208.1" r="8.4"/><circle cx="819.1" cy="1208.4" r="8.4"/><circle cx="819.3" cy="1198.6" r="8.4"/><circle cx="819.4" cy="1208.6" r="8.4"/><circle cx="819.8" cy="1208.8" r="8.4"/><circle cx="820.1" cy="1209.0" r="8.4"/><circle cx="820.5" cy="1209.3" r="8.4"/><circle cx="820.8" cy="1209.5" r="8.4"/><circle cx="821.1" cy="1209.7" r="8.4"/><circle cx="821.5" cy="1209.9" r="8.4"/><circle cx="821.8" cy="1210.2" r="8.4"/><circle cx="822.1" cy="1210.4" r="8.4"/><circle cx="822.4" cy="1210.6" r="8.4"/><circle cx="822.8" cy="1210.8" r="8.4"/><circle cx="823.1" cy="1211.0" r="8.4"/><circle cx="823.4" cy="1211.3" r="8.4"/><circle cx="823.7" cy="1211.5" r="8.4"/><circle cx="824.1" cy="1211.7" r="8.4"/><circle cx="824.2" cy="1205.9" r="8.4"/><circle cx="824.4" cy="1211.9" r="8.4"/><circle cx="824.7" cy="1212.1" r="8.4"/><circle cx="825.0" cy="1212.4" r="8.4"/><circle cx="825.3" cy="1212.6" r="8.4"/><circle cx="825.6" cy="1212.8" r="8.4"/><circle cx="826.0" cy="1213.0" r="8.4"/><circle cx="826.3" cy="1213.2" r="8.4"/><circle cx="826.6" cy="1213.4" r="8.4"/><circle cx="826.9" cy="1213.6" r="8.4"/><circle cx="827.2" cy="1213.8" r="8.4"/><circle cx="827.5" cy="1214.1" r="8.4"/><circle cx="827.8" cy="1214.3" r="8.4"/><circle cx="828.1" cy="1214.5" r="8.4"/><circle cx="828.4" cy="1214.7" r="8.4"/><circle cx="828.8" cy="1214.9" r="8.4"/><circle cx="829.1" cy="1215.1" r="8.4"/><circle cx="829.4" cy="1215.3" r="8.4"/><circle cx="829.7" cy="1215.5" r="8.4"/><circle cx="830.0" cy="1215.7" r="8.4"/><circle cx="830.3" cy="1215.9" r="8.4"/><circle cx="830.6" cy="1216.1" r="8.4"/><circle cx="830.9" cy="1216.3" r="8.4"/><circle cx="831.2" cy="1216.5" r="8.4"/><circle cx="831.5" cy="1216.7" r="8.4"/><circle cx="831.6" cy="1212.6" r="8.4"/><circle cx="831.8" cy="1216.9" r="8.4"/><circle cx="832.0" cy="1217.1" r="8.4"/><circle cx="832.3" cy="1217.4" r="8.4"/><circle cx="832.6" cy="1217.6" r="8.4"/><circle cx="832.9" cy="1217.8" r="8.4"/><circle cx="833.2" cy="1218.0" r="8.4"/><circle cx="833.5" cy="1218.2" r="8.4"/><circle cx="833.8" cy="1218.4" r="8.4"/><circle cx="834.1" cy="1218.5" r="8.4"/><circle cx="834.4" cy="1218.7" r="8.4"/><circle cx="834.7" cy="1218.9" r="8.4"/><circle cx="834.9" cy="1219.1" r="8.4"/><circle cx="835.2" cy="1219.3" r="8.4"/><circle cx="835.5" cy="1219.5" r="8.4"/><circle cx="835.8" cy="1219.7" r="8.4"/><circle cx="836.1" cy="1219.9" r="8.4"/><circle cx="836.4" cy="1220.1" r="8.4"/><circle cx="836.6" cy="1220.3" r="8.4"/><circle cx="836.9" cy="1220.5" r="8.4"/><circle cx="837.2" cy="1220.7" r="8.4"/><circle cx="837.5" cy="1220.9" r="8.4"/><circle cx="837.8" cy="1217.6" r="8.4"/><circle cx="837.9" cy="1221.2" r="8.4"/><circle cx="838.2" cy="1221.4" r="8.4"/><circle cx="838.4" cy="1221.6" r="8.4"/><circle cx="838.7" cy="1221.7" r="8.4"/><circle cx="839.0" cy="1221.9" r="8.4"/><circle cx="839.3" cy="1222.1" r="8.4"/><circle cx="839.5" cy="1222.3" r="8.4"/><circle cx="839.8" cy="1222.5" r="8.4"/><circle cx="840.1" cy="1222.7" r="8.4"/><circle cx="840.3" cy="1222.9" r="8.4"/><circle cx="840.6" cy="1223.1" r="8.4"/><circle cx="840.9" cy="1223.3" r="8.4"/><circle cx="841.2" cy="1223.4" r="8.4"/><circle cx="841.4" cy="1223.6" r="8.4"/><circle cx="841.7" cy="1223.8" r="8.4"/><circle cx="841.9" cy="1224.0" r="8.4"/><circle cx="842.2" cy="1224.2" r="8.4"/><circle cx="842.5" cy="1224.4" r="8.4"/><circle cx="842.7" cy="1224.5" r="8.4"/><circle cx="843.0" cy="1224.7" r="8.4"/><circle cx="843.3" cy="1224.9" r="8.4"/><circle cx="843.5" cy="1225.1" r="8.4"/><circle cx="843.8" cy="1225.3" r="8.4"/><circle cx="844.0" cy="1225.5" r="8.4"/><circle cx="844.3" cy="1225.6" r="8.4"/><circle cx="844.6" cy="1225.8" r="8.4"/><circle cx="844.8" cy="1226.0" r="8.4"/><circle cx="845.1" cy="1220.1" r="8.4"/><circle cx="845.2" cy="1226.3" r="8.4"/><circle cx="845.4" cy="1226.4" r="8.4"/><circle cx="845.7" cy="1226.6" r="8.4"/><circle cx="846.0" cy="1226.8" r="8.4"/><circle cx="846.2" cy="1227.0" r="8.4"/><circle cx="846.5" cy="1227.2" r="8.4"/><circle cx="846.7" cy="1227.3" r="8.4"/><circle cx="847.0" cy="1227.5" r="8.4"/><circle cx="847.2" cy="1227.7" r="8.4"/><circle cx="847.5" cy="1227.9" r="8.4"/><circle cx="847.7" cy="1228.0" r="8.4"/><circle cx="848.0" cy="1228.2" r="8.4"/><circle cx="848.1" cy="1190.1" r="8.4"/><circle cx="848.2" cy="1228.4" r="8.4"/><circle cx="848.3" cy="1203.6" r="8.4"/><circle cx="848.5" cy="1228.6" r="8.4"/><circle cx="848.7" cy="1228.7" r="8.4"/><circle cx="848.9" cy="1228.9" r="8.4"/><circle cx="849.3" cy="1229.2" r="8.4"/><circle cx="849.7" cy="1229.4" r="8.4"/><circle cx="850.0" cy="1229.7" r="8.4"/><circle cx="850.4" cy="1229.9" r="8.4"/><circle cx="850.8" cy="1230.2" r="8.4"/><circle cx="851.1" cy="1230.4" r="8.4"/><circle cx="851.5" cy="1230.7" r="8.4"/><circle cx="851.8" cy="1230.9" r="8.4"/><circle cx="852.2" cy="1231.2" r="8.4"/><circle cx="852.4" cy="1227.4" r="8.4"/><circle cx="852.5" cy="1231.4" r="8.4"/><circle cx="852.9" cy="1231.7" r="8.4"/><circle cx="853.3" cy="1231.9" r="8.4"/><circle cx="853.6" cy="1232.2" r="8.4"/><circle cx="854.0" cy="1232.4" r="8.4"/><circle cx="854.3" cy="1232.7" r="8.4"/><circle cx="854.6" cy="1232.9" r="8.4"/><circle cx="854.9" cy="1227.7" r="8.4"/><circle cx="855.0" cy="1233.2" r="8.4"/><circle cx="855.3" cy="1233.4" r="8.4"/><circle cx="855.7" cy="1233.7" r="8.4"/><circle cx="856.0" cy="1233.9" r="8.4"/><circle cx="856.4" cy="1234.2" r="8.4"/><circle cx="856.7" cy="1234.4" r="8.4"/><circle cx="857.0" cy="1234.6" r="8.4"/><circle cx="857.4" cy="1234.9" r="8.4"/><circle cx="857.7" cy="1235.1" r="8.4"/><circle cx="858.0" cy="1235.4" r="8.4"/><circle cx="858.4" cy="1235.6" r="8.4"/><circle cx="858.7" cy="1235.8" r="8.4"/><circle cx="859.0" cy="1236.1" r="8.4"/><circle cx="859.4" cy="1236.3" r="8.4"/><circle cx="859.7" cy="1236.5" r="8.4"/><circle cx="860.0" cy="1236.8" r="8.4"/><circle cx="860.3" cy="1237.0" r="8.4"/><circle cx="860.6" cy="1232.9" r="8.4"/><circle cx="860.7" cy="1237.2" r="8.4"/><circle cx="861.0" cy="1237.5" r="8.4"/><circle cx="861.3" cy="1237.7" r="8.4"/><circle cx="861.6" cy="1237.9" r="8.4"/><circle cx="861.9" cy="1238.2" r="8.4"/><circle cx="862.3" cy="1238.4" r="8.4"/><circle cx="862.6" cy="1238.6" r="8.4"/><circle cx="862.9" cy="1238.8" r="8.4"/><circle cx="863.2" cy="1239.1" r="8.4"/><circle cx="863.5" cy="1239.3" r="8.4"/><circle cx="863.8" cy="1239.5" r="8.4"/><circle cx="864.2" cy="1239.8" r="8.4"/><circle cx="864.5" cy="1240.0" r="8.4"/><circle cx="864.8" cy="1240.2" r="8.4"/><circle cx="865.1" cy="1240.4" r="8.4"/><circle cx="865.4" cy="1236.1" r="8.4"/><circle cx="865.5" cy="1240.7" r="8.4"/><circle cx="865.8" cy="1240.9" r="8.4"/><circle cx="866.1" cy="1241.2" r="8.4"/><circle cx="866.4" cy="1241.4" r="8.4"/><circle cx="866.7" cy="1241.6" r="8.4"/><circle cx="867.0" cy="1241.8" r="8.4"/><circle cx="867.3" cy="1242.0" r="8.4"/><circle cx="867.6" cy="1242.3" r="8.4"/><circle cx="867.9" cy="1242.5" r="8.4"/><circle cx="868.2" cy="1242.7" r="8.4"/><circle cx="868.5" cy="1242.9" r="8.4"/><circle cx="868.8" cy="1243.1" r="8.4"/><circle cx="869.1" cy="1243.3" r="8.4"/><circle cx="869.4" cy="1243.6" r="8.4"/><circle cx="869.7" cy="1243.8" r="8.4"/><circle cx="870.0" cy="1244.0" r="8.4"/><circle cx="870.3" cy="1244.2" r="8.4"/><circle cx="870.6" cy="1244.4" r="8.4"/><circle cx="870.9" cy="1244.6" r="8.4"/><circle cx="871.1" cy="1244.8" r="8.4"/><circle cx="871.4" cy="1245.0" r="8.4"/><circle cx="871.7" cy="1245.3" r="8.4"/><circle cx="872.0" cy="1245.5" r="8.4"/><circle cx="872.3" cy="1245.7" r="8.4"/><circle cx="872.6" cy="1245.9" r="8.4"/><circle cx="872.9" cy="1246.1" r="8.4"/><circle cx="873.1" cy="1246.3" r="8.4"/><circle cx="873.4" cy="1246.5" r="8.4"/><circle cx="873.7" cy="1246.7" r="8.4"/><circle cx="874.0" cy="1246.9" r="8.4"/><circle cx="874.3" cy="1247.1" r="8.4"/><circle cx="874.5" cy="1247.3" r="8.4"/><circle cx="874.8" cy="1247.5" r="8.4"/><circle cx="875.1" cy="1247.7" r="8.4"/><circle cx="875.4" cy="1247.9" r="8.4"/><circle cx="875.7" cy="1248.1" r="8.4"/><circle cx="875.9" cy="1248.3" r="8.4"/><circle cx="876.2" cy="1248.5" r="8.4"/><circle cx="876.4" cy="1243.6" r="8.4"/><circle cx="876.5" cy="1248.7" r="8.4"/><circle cx="876.7" cy="1248.9" r="8.4"/><circle cx="877.0" cy="1249.1" r="8.4"/><circle cx="877.3" cy="1249.3" r="8.4"/><circle cx="877.6" cy="1249.5" r="8.4"/><circle cx="877.8" cy="1249.7" r="8.4"/><circle cx="878.1" cy="1249.9" r="8.4"/><circle cx="878.4" cy="1250.1" r="8.4"/><circle cx="878.6" cy="1250.3" r="8.4"/><circle cx="878.9" cy="1250.5" r="8.4"/><circle cx="879.2" cy="1250.7" r="8.4"/><circle cx="879.4" cy="1250.9" r="8.4"/><circle cx="879.7" cy="1251.1" r="8.4"/><circle cx="879.9" cy="1251.3" r="8.4"/><circle cx="880.2" cy="1251.5" r="8.4"/><circle cx="880.5" cy="1251.7" r="8.4"/><circle cx="880.7" cy="1251.9" r="8.4"/><circle cx="881.0" cy="1252.1" r="8.4"/><circle cx="881.2" cy="1252.3" r="8.4"/><circle cx="881.5" cy="1252.4" r="8.4"/><circle cx="881.8" cy="1252.6" r="8.4"/><circle cx="882.0" cy="1252.8" r="8.4"/><circle cx="882.3" cy="1253.0" r="8.4"/><circle cx="882.5" cy="1253.2" r="8.4"/><circle cx="882.8" cy="1253.4" r="8.4"/><circle cx="883.0" cy="1253.6" r="8.4"/><circle cx="883.3" cy="1253.8" r="8.4"/><circle cx="883.5" cy="1254.0" r="8.4"/><circle cx="883.8" cy="1254.1" r="8.4"/><circle cx="884.0" cy="1254.3" r="8.4"/><circle cx="884.3" cy="1254.5" r="8.4"/><circle cx="884.5" cy="1254.7" r="8.4"/><circle cx="884.8" cy="1254.9" r="8.4"/><circle cx="885.0" cy="1255.1" r="8.4"/><circle cx="885.3" cy="1255.3" r="8.4"/><circle cx="885.5" cy="1255.4" r="8.4"/><circle cx="885.8" cy="1255.6" r="8.4"/><circle cx="886.0" cy="1255.8" r="8.4"/><circle cx="886.3" cy="1256.0" r="8.4"/><circle cx="886.5" cy="1256.2" r="8.4"/><circle cx="886.8" cy="1256.4" r="8.4"/><circle cx="887.0" cy="1256.5" r="8.4"/><circle cx="887.3" cy="1256.7" r="8.4"/><circle cx="887.5" cy="1256.9" r="8.4"/><circle cx="887.7" cy="1257.1" r="8.4"/><circle cx="888.0" cy="1257.3" r="8.4"/><circle cx="888.3" cy="1257.5" r="8.4"/><circle cx="888.6" cy="1257.7" r="8.4"/><circle cx="888.9" cy="1258.0" r="8.4"/><circle cx="889.2" cy="1258.2" r="8.4"/><circle cx="889.6" cy="1258.4" r="8.4"/><circle cx="889.9" cy="1258.7" r="8.4"/><circle cx="890.2" cy="1258.9" r="8.4"/><circle cx="890.5" cy="1259.2" r="8.4"/><circle cx="890.8" cy="1259.4" r="8.4"/><circle cx="891.1" cy="1259.6" r="8.4"/><circle cx="891.4" cy="1259.8" r="8.4"/><circle cx="891.7" cy="1260.1" r="8.4"/><circle cx="892.1" cy="1260.3" r="8.4"/><circle cx="892.4" cy="1260.5" r="8.4"/><circle cx="892.7" cy="1260.8" r="8.4"/><circle cx="893.0" cy="1261.0" r="8.4"/><circle cx="893.3" cy="1261.2" r="8.4"/><circle cx="893.6" cy="1261.5" r="8.4"/><circle cx="893.9" cy="1261.7" r="8.4"/><circle cx="894.2" cy="1261.9" r="8.4"/><circle cx="894.5" cy="1262.1" r="8.4"/><circle cx="894.8" cy="1262.4" r="8.4"/><circle cx="895.1" cy="1262.6" r="8.4"/><circle cx="895.4" cy="1262.8" r="8.4"/><circle cx="895.7" cy="1263.0" r="8.4"/><circle cx="896.0" cy="1263.2" r="8.4"/><circle cx="896.2" cy="1263.5" r="8.4"/><circle cx="896.5" cy="1263.7" r="8.4"/><circle cx="896.8" cy="1263.9" r="8.4"/><circle cx="897.1" cy="1264.1" r="8.4"/><circle cx="897.4" cy="1264.3" r="8.4"/><circle cx="897.7" cy="1264.6" r="8.4"/><circle cx="898.0" cy="1264.8" r="8.4"/><circle cx="898.3" cy="1265.0" r="8.4"/><circle cx="898.6" cy="1265.2" r="8.4"/><circle cx="898.8" cy="1265.4" r="8.4"/><circle cx="899.1" cy="1265.6" r="8.4"/><circle cx="899.4" cy="1265.9" r="8.4"/><circle cx="899.7" cy="1266.1" r="8.4"/><circle cx="900.0" cy="1266.3" r="8.4"/><circle cx="900.3" cy="1266.5" r="8.4"/><circle cx="900.5" cy="1266.7" r="8.4"/><circle cx="900.8" cy="1266.9" r="8.4"/><circle cx="901.1" cy="1267.1" r="8.4"/><circle cx="901.4" cy="1267.3" r="8.4"/><circle cx="901.6" cy="1267.5" r="8.4"/><circle cx="901.9" cy="1267.8" r="8.4"/><circle cx="902.2" cy="1268.0" r="8.4"/><circle cx="902.5" cy="1268.2" r="8.4"/><circle cx="902.7" cy="1268.4" r="8.4"/><circle cx="902.8" cy="1233.6" r="8.4"/><circle cx="903.0" cy="1268.6" r="8.4"/><circle cx="903.3" cy="1268.8" r="8.4"/><circle cx="903.6" cy="1269.0" r="8.4"/><circle cx="903.8" cy="1269.2" r="8.4"/><circle cx="904.1" cy="1269.4" r="8.4"/><circle cx="904.4" cy="1269.6" r="8.4"/><circle cx="904.6" cy="1269.8" r="8.4"/><circle cx="904.9" cy="1270.0" r="8.4"/><circle cx="905.2" cy="1270.2" r="8.4"/><circle cx="905.4" cy="1270.4" r="8.4"/><circle cx="905.7" cy="1270.6" r="8.4"/><circle cx="906.0" cy="1270.8" r="8.4"/><circle cx="906.2" cy="1271.0" r="8.4"/><circle cx="906.5" cy="1271.2" r="8.4"/><circle cx="906.8" cy="1271.4" r="8.4"/><circle cx="907.0" cy="1271.6" r="8.4"/><circle cx="907.3" cy="1271.8" r="8.4"/><circle cx="907.5" cy="1272.0" r="8.4"/><circle cx="907.8" cy="1272.2" r="8.4"/><circle cx="908.0" cy="1272.4" r="8.4"/><circle cx="908.3" cy="1272.6" r="8.4"/><circle cx="908.6" cy="1272.8" r="8.4"/><circle cx="908.8" cy="1273.0" r="8.4"/><circle cx="909.1" cy="1273.2" r="8.4"/><circle cx="909.3" cy="1273.4" r="8.4"/><circle cx="909.6" cy="1273.6" r="8.4"/><circle cx="909.8" cy="1273.8" r="8.4"/><circle cx="910.1" cy="1274.0" r="8.4"/><circle cx="910.3" cy="1274.1" r="8.4"/><circle cx="910.6" cy="1274.3" r="8.4"/><circle cx="910.8" cy="1274.5" r="8.4"/><circle cx="911.1" cy="1274.7" r="8.4"/><circle cx="911.3" cy="1274.9" r="8.4"/><circle cx="911.6" cy="1275.1" r="8.4"/><circle cx="911.8" cy="1275.3" r="8.4"/><circle cx="912.1" cy="1275.5" r="8.4"/><circle cx="912.3" cy="1275.7" r="8.4"/><circle cx="912.6" cy="1275.8" r="8.4"/><circle cx="912.8" cy="1276.0" r="8.4"/><circle cx="913.1" cy="1276.2" r="8.4"/><circle cx="913.1" cy="1269.0" r="8.4"/><circle cx="913.3" cy="1276.4" r="8.4"/><circle cx="913.5" cy="1276.6" r="8.4"/><circle cx="913.8" cy="1276.8" r="8.4"/><circle cx="914.0" cy="1277.0" r="8.4"/><circle cx="914.3" cy="1277.1" r="8.4"/><circle cx="914.5" cy="1277.3" r="8.4"/><circle cx="914.8" cy="1277.5" r="8.4"/><circle cx="915.0" cy="1277.7" r="8.4"/><circle cx="915.2" cy="1277.9" r="8.4"/><circle cx="915.5" cy="1278.1" r="8.4"/><circle cx="915.8" cy="1278.3" r="8.4"/><circle cx="916.1" cy="1278.6" r="8.4"/><circle cx="916.4" cy="1278.8" r="8.4"/><circle cx="916.7" cy="1279.0" r="8.4"/><circle cx="917.0" cy="1279.2" r="8.4"/><circle cx="917.3" cy="1279.5" r="8.4"/><circle cx="917.6" cy="1279.7" r="8.4"/><circle cx="917.9" cy="1279.9" r="8.4"/><circle cx="918.2" cy="1280.1" r="8.4"/><circle cx="918.4" cy="1280.3" r="8.4"/><circle cx="918.7" cy="1280.6" r="8.4"/><circle cx="919.0" cy="1280.8" r="8.4"/><circle cx="919.3" cy="1281.0" r="8.4"/><circle cx="919.6" cy="1281.2" r="8.4"/><circle cx="919.9" cy="1281.4" r="8.4"/><circle cx="920.2" cy="1281.6" r="8.4"/><circle cx="920.4" cy="1281.9" r="8.4"/><circle cx="920.7" cy="1282.1" r="8.4"/><circle cx="921.0" cy="1282.3" r="8.4"/><circle cx="921.3" cy="1282.5" r="8.4"/><circle cx="921.6" cy="1282.7" r="8.4"/><circle cx="921.8" cy="1282.9" r="8.4"/><circle cx="922.1" cy="1283.1" r="8.4"/><circle cx="922.4" cy="1283.3" r="8.4"/><circle cx="922.7" cy="1283.6" r="8.4"/><circle cx="922.9" cy="1283.8" r="8.4"/><circle cx="923.2" cy="1284.0" r="8.4"/><circle cx="923.5" cy="1284.2" r="8.4"/><circle cx="923.8" cy="1284.4" r="8.4"/><circle cx="924.0" cy="1284.6" r="8.4"/><circle cx="924.3" cy="1284.8" r="8.4"/><circle cx="924.6" cy="1285.0" r="8.4"/><circle cx="924.8" cy="1285.2" r="8.4"/><circle cx="925.1" cy="1285.4" r="8.4"/><circle cx="925.4" cy="1285.6" r="8.4"/><circle cx="925.6" cy="1285.8" r="8.4"/><circle cx="925.9" cy="1286.0" r="8.4"/><circle cx="926.2" cy="1286.2" r="8.4"/><circle cx="926.4" cy="1286.4" r="8.4"/><circle cx="926.7" cy="1286.6" r="8.4"/><circle cx="927.0" cy="1286.8" r="8.4"/><circle cx="927.2" cy="1287.0" r="8.4"/><circle cx="927.5" cy="1287.2" r="8.4"/><circle cx="927.7" cy="1287.4" r="8.4"/><circle cx="928.0" cy="1287.6" r="8.4"/><circle cx="928.3" cy="1287.8" r="8.4"/><circle cx="928.5" cy="1288.0" r="8.4"/><circle cx="928.8" cy="1288.2" r="8.4"/><circle cx="929.0" cy="1288.4" r="8.4"/><circle cx="929.3" cy="1288.6" r="8.4"/><circle cx="929.3" cy="1288.7" r="8.4"/></g><g fill="url(#gR)"><circle cx="176.6" cy="1077.2" r="8.4"/><circle cx="277.6" cy="1083.1" r="8.4"/><circle cx="324.6" cy="1087.7" r="8.4"/><circle cx="355.5" cy="1090.5" r="8.4"/><circle cx="378.6" cy="1092.5" r="8.4"/><circle cx="397.0" cy="1094.0" r="8.4"/><circle cx="412.4" cy="1095.2" r="8.4"/><circle cx="425.5" cy="1096.3" r="8.4"/><circle cx="437.0" cy="1097.2" r="8.4"/><circle cx="447.3" cy="1098.1" r="8.4"/><circle cx="456.5" cy="1098.9" r="8.4"/><circle cx="464.8" cy="1099.6" r="8.4"/><circle cx="472.5" cy="1100.3" r="8.4"/><circle cx="479.6" cy="1101.0" r="8.4"/><circle cx="486.1" cy="1101.7" r="8.4"/><circle cx="492.3" cy="1102.3" r="8.4"/><circle cx="498.0" cy="1103.0" r="8.4"/><circle cx="503.4" cy="1103.6" r="8.4"/><circle cx="508.5" cy="1104.2" r="8.4"/><circle cx="513.4" cy="1104.8" r="8.4"/><circle cx="518.0" cy="1105.4" r="8.4"/><circle cx="522.4" cy="1106.0" r="8.4"/><circle cx="526.5" cy="1106.5" r="8.4"/><circle cx="530.5" cy="1107.1" r="8.4"/><circle cx="534.4" cy="1107.7" r="8.4"/><circle cx="538.0" cy="1108.2" r="8.4"/><circle cx="541.6" cy="1108.8" r="8.4"/><circle cx="545.0" cy="1109.3" r="8.4"/><circle cx="548.3" cy="1109.9" r="8.4"/><circle cx="551.4" cy="1110.4" r="8.4"/><circle cx="554.5" cy="1111.0" r="8.4"/><circle cx="557.5" cy="1111.5" r="8.4"/><circle cx="560.3" cy="1112.0" r="8.4"/><circle cx="563.1" cy="1112.5" r="8.4"/><circle cx="565.8" cy="1113.1" r="8.4"/><circle cx="568.5" cy="1113.6" r="8.4"/><circle cx="571.0" cy="1114.1" r="8.4"/><circle cx="573.5" cy="1114.6" r="8.4"/><circle cx="575.9" cy="1115.1" r="8.4"/><circle cx="578.3" cy="1115.6" r="8.4"/><circle cx="580.6" cy="1116.1" r="8.4"/><circle cx="582.8" cy="1116.6" r="8.4"/><circle cx="585.0" cy="1117.1" r="8.4"/><circle cx="587.1" cy="1117.6" r="8.4"/><circle cx="589.2" cy="1118.1" r="8.4"/><circle cx="591.3" cy="1118.6" r="8.4"/><circle cx="593.3" cy="1119.0" r="8.4"/><circle cx="595.2" cy="1119.5" r="8.4"/><circle cx="597.1" cy="1120.0" r="8.4"/><circle cx="599.0" cy="1120.5" r="8.4"/><circle cx="600.9" cy="1120.9" r="8.4"/><circle cx="602.7" cy="1121.4" r="8.4"/><circle cx="604.4" cy="1121.9" r="8.4"/><circle cx="606.2" cy="1122.3" r="8.4"/><circle cx="607.9" cy="1122.8" r="8.4"/><circle cx="609.5" cy="1123.3" r="8.4"/><circle cx="611.2" cy="1123.7" r="8.4"/><circle cx="612.8" cy="1124.2" r="8.4"/><circle cx="614.4" cy="1124.6" r="8.4"/><circle cx="615.9" cy="1125.1" r="8.4"/><circle cx="617.5" cy="1125.5" r="8.4"/><circle cx="619.0" cy="1125.9" r="8.4"/><circle cx="620.5" cy="1126.4" r="8.4"/><circle cx="621.9" cy="1126.8" r="8.4"/><circle cx="623.3" cy="1127.3" r="8.4"/><circle cx="624.8" cy="1127.7" r="8.4"/><circle cx="626.2" cy="1128.1" r="8.4"/><circle cx="627.5" cy="1128.6" r="8.4"/><circle cx="628.9" cy="1129.0" r="8.4"/><circle cx="630.2" cy="1129.4" r="8.4"/><circle cx="631.5" cy="1129.8" r="8.4"/><circle cx="632.8" cy="1130.2" r="8.4"/><circle cx="634.1" cy="1130.7" r="8.4"/><circle cx="635.4" cy="1131.1" r="8.4"/><circle cx="636.6" cy="1131.5" r="8.4"/><circle cx="637.8" cy="1131.9" r="8.4"/><circle cx="639.0" cy="1132.3" r="8.4"/><circle cx="640.2" cy="1132.7" r="8.4"/><circle cx="641.4" cy="1133.1" r="8.4"/><circle cx="642.6" cy="1133.5" r="8.4"/><circle cx="643.7" cy="1133.9" r="8.4"/><circle cx="644.9" cy="1134.3" r="8.4"/><circle cx="646.0" cy="1134.7" r="8.4"/><circle cx="647.1" cy="1135.1" r="8.4"/><circle cx="648.2" cy="1135.5" r="8.4"/><circle cx="649.3" cy="1135.9" r="8.4"/><circle cx="650.3" cy="1136.3" r="8.4"/><circle cx="651.4" cy="1136.7" r="8.4"/><circle cx="652.4" cy="1137.1" r="8.4"/><circle cx="653.5" cy="1137.5" r="8.4"/><circle cx="654.5" cy="1137.8" r="8.4"/><circle cx="655.5" cy="1138.2" r="8.4"/><circle cx="656.5" cy="1138.6" r="8.4"/><circle cx="657.5" cy="1139.0" r="8.4"/><circle cx="658.5" cy="1139.4" r="8.4"/><circle cx="659.4" cy="1139.7" r="8.4"/><circle cx="660.4" cy="1140.1" r="8.4"/><circle cx="661.3" cy="1140.5" r="8.4"/><circle cx="662.3" cy="1140.9" r="8.4"/><circle cx="663.2" cy="1141.2" r="8.4"/><circle cx="664.1" cy="1141.6" r="8.4"/><circle cx="665.0" cy="1142.0" r="8.4"/><circle cx="665.9" cy="1142.3" r="8.4"/><circle cx="666.8" cy="1142.7" r="8.4"/><circle cx="667.7" cy="1143.0" r="8.4"/><circle cx="668.6" cy="1143.4" r="8.4"/><circle cx="669.4" cy="1143.8" r="8.4"/><circle cx="670.3" cy="1144.1" r="8.4"/><circle cx="671.2" cy="1144.5" r="8.4"/><circle cx="672.0" cy="1144.8" r="8.4"/><circle cx="672.8" cy="1145.2" r="8.4"/><circle cx="673.7" cy="1145.5" r="8.4"/><circle cx="674.5" cy="1145.9" r="8.4"/><circle cx="675.3" cy="1146.2" r="8.4"/><circle cx="676.1" cy="1146.6" r="8.4"/><circle cx="676.9" cy="1146.9" r="8.4"/><circle cx="677.7" cy="1147.2" r="8.4"/><circle cx="678.5" cy="1147.6" r="8.4"/><circle cx="679.3" cy="1147.9" r="8.4"/><circle cx="680.0" cy="1148.3" r="8.4"/><circle cx="680.8" cy="1148.6" r="8.4"/><circle cx="681.6" cy="1148.9" r="8.4"/><circle cx="682.3" cy="1149.3" r="8.4"/><circle cx="683.1" cy="1149.6" r="8.4"/><circle cx="683.8" cy="1149.9" r="8.4"/><circle cx="684.5" cy="1150.3" r="8.4"/><circle cx="685.3" cy="1150.6" r="8.4"/><circle cx="686.0" cy="1150.9" r="8.4"/><circle cx="686.7" cy="1151.2" r="8.4"/><circle cx="687.4" cy="1151.6" r="8.4"/><circle cx="688.1" cy="1151.9" r="8.4"/><circle cx="688.8" cy="1152.2" r="8.4"/><circle cx="689.5" cy="1152.5" r="8.4"/><circle cx="690.2" cy="1152.9" r="8.4"/><circle cx="690.9" cy="1153.2" r="8.4"/><circle cx="691.6" cy="1153.5" r="8.4"/><circle cx="692.3" cy="1153.8" r="8.4"/><circle cx="692.9" cy="1154.1" r="8.4"/><circle cx="693.6" cy="1154.4" r="8.4"/><circle cx="694.3" cy="1154.8" r="8.4"/><circle cx="694.9" cy="1155.1" r="8.4"/><circle cx="695.6" cy="1155.4" r="8.4"/><circle cx="696.2" cy="1155.7" r="8.4"/><circle cx="696.9" cy="1156.0" r="8.4"/><circle cx="697.5" cy="1156.3" r="8.4"/><circle cx="698.1" cy="1156.6" r="8.4"/><circle cx="698.8" cy="1156.9" r="8.4"/><circle cx="699.4" cy="1157.2" r="8.4"/><circle cx="700.0" cy="1157.5" r="8.4"/><circle cx="700.6" cy="1157.8" r="8.4"/><circle cx="701.2" cy="1158.1" r="8.4"/><circle cx="701.8" cy="1158.4" r="8.4"/><circle cx="702.5" cy="1158.7" r="8.4"/><circle cx="703.1" cy="1159.0" r="8.4"/><circle cx="703.6" cy="1159.3" r="8.4"/><circle cx="704.2" cy="1159.6" r="8.4"/><circle cx="704.8" cy="1159.9" r="8.4"/><circle cx="705.4" cy="1160.2" r="8.4"/><circle cx="706.0" cy="1160.5" r="8.4"/><circle cx="706.6" cy="1160.8" r="8.4"/><circle cx="707.2" cy="1161.1" r="8.4"/><circle cx="707.7" cy="1161.4" r="8.4"/><circle cx="708.3" cy="1161.7" r="8.4"/><circle cx="708.9" cy="1162.0" r="8.4"/><circle cx="709.4" cy="1162.2" r="8.4"/><circle cx="710.0" cy="1162.5" r="8.4"/><circle cx="710.5" cy="1162.8" r="8.4"/><circle cx="711.1" cy="1163.1" r="8.4"/><circle cx="711.6" cy="1163.4" r="8.4"/><circle cx="712.2" cy="1163.7" r="8.4"/><circle cx="712.7" cy="1163.9" r="8.4"/><circle cx="713.2" cy="1164.2" r="8.4"/><circle cx="713.8" cy="1164.5" r="8.4"/><circle cx="714.3" cy="1164.8" r="8.4"/><circle cx="714.8" cy="1165.1" r="8.4"/><circle cx="715.4" cy="1165.3" r="8.4"/><circle cx="715.9" cy="1165.6" r="8.4"/><circle cx="716.4" cy="1165.9" r="8.4"/><circle cx="716.9" cy="1166.2" r="8.4"/><circle cx="717.4" cy="1166.4" r="8.4"/><circle cx="717.9" cy="1166.7" r="8.4"/><circle cx="718.5" cy="1163.8" r="8.4"/><circle cx="719.0" cy="1167.2" r="8.4"/><circle cx="719.5" cy="1167.5" r="8.4"/><circle cx="720.0" cy="1167.8" r="8.4"/><circle cx="720.5" cy="1168.1" r="8.4"/><circle cx="721.0" cy="1168.3" r="8.4"/><circle cx="721.4" cy="1168.6" r="8.4"/><circle cx="721.9" cy="1168.9" r="8.4"/><circle cx="722.4" cy="1169.1" r="8.4"/><circle cx="722.9" cy="1169.4" r="8.4"/><circle cx="723.4" cy="1169.6" r="8.4"/><circle cx="723.9" cy="1169.9" r="8.4"/><circle cx="724.3" cy="1170.2" r="8.4"/><circle cx="724.8" cy="1170.4" r="8.4"/><circle cx="725.3" cy="1170.7" r="8.4"/><circle cx="725.8" cy="1170.9" r="8.4"/><circle cx="726.2" cy="1171.2" r="8.4"/><circle cx="726.7" cy="1171.5" r="8.4"/><circle cx="727.1" cy="1171.7" r="8.4"/><circle cx="727.6" cy="1172.0" r="8.4"/><circle cx="728.1" cy="1172.2" r="8.4"/><circle cx="728.5" cy="1172.5" r="8.4"/><circle cx="729.0" cy="1172.7" r="8.4"/><circle cx="729.4" cy="1173.0" r="8.4"/><circle cx="729.9" cy="1173.2" r="8.4"/><circle cx="730.3" cy="1173.5" r="8.4"/><circle cx="730.8" cy="1173.7" r="8.4"/><circle cx="731.2" cy="1174.0" r="8.4"/><circle cx="731.6" cy="1174.2" r="8.4"/><circle cx="732.1" cy="1174.5" r="8.4"/><circle cx="732.5" cy="1174.7" r="8.4"/><circle cx="733.0" cy="1175.0" r="8.4"/><circle cx="733.4" cy="1175.2" r="8.4"/><circle cx="733.8" cy="1175.5" r="8.4"/><circle cx="734.2" cy="1175.7" r="8.4"/><circle cx="734.7" cy="1176.0" r="8.4"/><circle cx="735.1" cy="1176.2" r="8.4"/><circle cx="735.5" cy="1176.5" r="8.4"/><circle cx="735.9" cy="1176.7" r="8.4"/><circle cx="736.3" cy="1176.9" r="8.4"/><circle cx="736.8" cy="1177.2" r="8.4"/><circle cx="737.2" cy="1177.4" r="8.4"/><circle cx="737.6" cy="1177.7" r="8.4"/><circle cx="738.0" cy="1177.9" r="8.4"/><circle cx="738.4" cy="1178.1" r="8.4"/><circle cx="738.8" cy="1178.4" r="8.4"/><circle cx="739.2" cy="1178.6" r="8.4"/><circle cx="739.6" cy="1178.8" r="8.4"/><circle cx="740.0" cy="1179.1" r="8.4"/><circle cx="740.4" cy="1179.3" r="8.4"/><circle cx="740.8" cy="1179.6" r="8.4"/><circle cx="741.2" cy="1179.8" r="8.4"/><circle cx="741.6" cy="1180.0" r="8.4"/><circle cx="742.0" cy="1180.3" r="8.4"/><circle cx="742.4" cy="1180.5" r="8.4"/><circle cx="742.8" cy="1180.7" r="8.4"/><circle cx="743.2" cy="1180.9" r="8.4"/><circle cx="743.6" cy="1181.2" r="8.4"/><circle cx="743.9" cy="1181.4" r="8.4"/><circle cx="744.3" cy="1181.6" r="8.4"/><circle cx="744.7" cy="1181.9" r="8.4"/><circle cx="745.1" cy="1182.1" r="8.4"/><circle cx="745.5" cy="1182.3" r="8.4"/><circle cx="745.8" cy="1182.5" r="8.4"/><circle cx="746.2" cy="1182.8" r="8.4"/><circle cx="746.6" cy="1183.0" r="8.4"/><circle cx="747.0" cy="1183.2" r="8.4"/><circle cx="747.3" cy="1183.4" r="8.4"/><circle cx="747.7" cy="1183.7" r="8.4"/><circle cx="748.1" cy="1183.9" r="8.4"/><circle cx="748.4" cy="1184.1" r="8.4"/><circle cx="748.8" cy="1184.3" r="8.4"/><circle cx="749.2" cy="1184.5" r="8.4"/><circle cx="749.5" cy="1184.8" r="8.4"/><circle cx="749.9" cy="1185.0" r="8.4"/><circle cx="750.3" cy="1185.2" r="8.4"/><circle cx="750.6" cy="1185.4" r="8.4"/><circle cx="751.0" cy="1185.6" r="8.4"/><circle cx="751.3" cy="1185.9" r="8.4"/><circle cx="751.7" cy="1186.1" r="8.4"/><circle cx="752.0" cy="1186.3" r="8.4"/><circle cx="752.4" cy="1186.5" r="8.4"/><circle cx="752.7" cy="1186.7" r="8.4"/><circle cx="753.1" cy="1186.9" r="8.4"/><circle cx="753.4" cy="1187.2" r="8.4"/><circle cx="753.8" cy="1187.4" r="8.4"/><circle cx="754.1" cy="1187.6" r="8.4"/><circle cx="754.5" cy="1187.8" r="8.4"/><circle cx="754.8" cy="1188.0" r="8.4"/><circle cx="755.1" cy="1188.2" r="8.4"/><circle cx="755.5" cy="1188.4" r="8.4"/><circle cx="755.8" cy="1188.6" r="8.4"/><circle cx="756.1" cy="1188.8" r="8.4"/><circle cx="756.5" cy="1189.1" r="8.4"/><circle cx="756.8" cy="1189.3" r="8.4"/><circle cx="757.2" cy="1189.5" r="8.4"/><circle cx="757.5" cy="1189.7" r="8.4"/><circle cx="757.8" cy="1189.9" r="8.4"/><circle cx="758.1" cy="1190.1" r="8.4"/><circle cx="758.5" cy="1190.3" r="8.4"/><circle cx="758.8" cy="1190.5" r="8.4"/><circle cx="759.1" cy="1190.7" r="8.4"/><circle cx="759.5" cy="1190.9" r="8.4"/><circle cx="759.8" cy="1191.1" r="8.4"/><circle cx="760.1" cy="1191.3" r="8.4"/><circle cx="760.4" cy="1191.5" r="8.4"/><circle cx="760.7" cy="1191.7" r="8.4"/><circle cx="761.1" cy="1191.9" r="8.4"/><circle cx="761.4" cy="1192.1" r="8.4"/><circle cx="761.7" cy="1192.3" r="8.4"/><circle cx="762.0" cy="1192.5" r="8.4"/><circle cx="762.3" cy="1192.7" r="8.4"/><circle cx="762.6" cy="1192.9" r="8.4"/><circle cx="763.0" cy="1193.1" r="8.4"/><circle cx="763.3" cy="1193.3" r="8.4"/><circle cx="763.6" cy="1193.5" r="8.4"/><circle cx="763.9" cy="1193.7" r="8.4"/><circle cx="764.2" cy="1193.9" r="8.4"/><circle cx="764.5" cy="1194.1" r="8.4"/><circle cx="764.8" cy="1194.3" r="8.4"/><circle cx="765.1" cy="1194.5" r="8.4"/><circle cx="765.4" cy="1194.7" r="8.4"/><circle cx="765.7" cy="1194.9" r="8.4"/><circle cx="766.0" cy="1195.1" r="8.4"/><circle cx="766.3" cy="1195.3" r="8.4"/><circle cx="766.6" cy="1195.5" r="8.4"/><circle cx="766.9" cy="1195.7" r="8.4"/><circle cx="767.2" cy="1195.9" r="8.4"/><circle cx="767.5" cy="1196.1" r="8.4"/><circle cx="767.8" cy="1196.3" r="8.4"/><circle cx="768.1" cy="1196.5" r="8.4"/><circle cx="768.4" cy="1196.7" r="8.4"/><circle cx="768.7" cy="1196.8" r="8.4"/><circle cx="769.0" cy="1197.0" r="8.4"/><circle cx="769.3" cy="1197.2" r="8.4"/><circle cx="769.6" cy="1197.4" r="8.4"/><circle cx="769.9" cy="1197.6" r="8.4"/><circle cx="770.2" cy="1197.8" r="8.4"/><circle cx="770.4" cy="1198.0" r="8.4"/><circle cx="770.7" cy="1198.2" r="8.4"/><circle cx="771.0" cy="1198.4" r="8.4"/><circle cx="771.3" cy="1198.5" r="8.4"/><circle cx="771.6" cy="1198.7" r="8.4"/><circle cx="771.9" cy="1198.9" r="8.4"/><circle cx="772.2" cy="1199.1" r="8.4"/><circle cx="772.4" cy="1199.3" r="8.4"/><circle cx="772.7" cy="1199.5" r="8.4"/><circle cx="773.0" cy="1199.7" r="8.4"/><circle cx="773.3" cy="1199.8" r="8.4"/><circle cx="773.6" cy="1200.0" r="8.4"/><circle cx="773.8" cy="1200.2" r="8.4"/><circle cx="774.1" cy="1200.4" r="8.4"/><circle cx="774.4" cy="1200.6" r="8.4"/><circle cx="774.7" cy="1200.8" r="8.4"/><circle cx="774.9" cy="1200.9" r="8.4"/><circle cx="775.2" cy="1201.1" r="8.4"/><circle cx="775.5" cy="1201.3" r="8.4"/><circle cx="775.8" cy="1201.5" r="8.4"/><circle cx="776.0" cy="1201.7" r="8.4"/><circle cx="776.3" cy="1201.8" r="8.4"/><circle cx="776.6" cy="1202.0" r="8.4"/><circle cx="776.8" cy="1202.2" r="8.4"/><circle cx="777.1" cy="1202.4" r="8.4"/><circle cx="777.4" cy="1202.6" r="8.4"/><circle cx="777.6" cy="1202.7" r="8.4"/><circle cx="777.9" cy="1202.9" r="8.4"/><circle cx="778.2" cy="1203.1" r="8.4"/><circle cx="778.4" cy="1203.3" r="8.4"/><circle cx="778.7" cy="1203.4" r="8.4"/><circle cx="779.0" cy="1203.6" r="8.4"/><circle cx="779.2" cy="1203.8" r="8.4"/><circle cx="779.5" cy="1204.0" r="8.4"/><circle cx="779.7" cy="1204.2" r="8.4"/><circle cx="780.0" cy="1204.3" r="8.4"/><circle cx="780.3" cy="1204.5" r="8.4"/><circle cx="780.5" cy="1204.7" r="8.4"/><circle cx="780.8" cy="1204.8" r="8.4"/><circle cx="781.0" cy="1205.0" r="8.4"/><circle cx="781.3" cy="1205.2" r="8.4"/><circle cx="781.5" cy="1205.4" r="8.4"/><circle cx="781.8" cy="1205.5" r="8.4"/><circle cx="782.0" cy="1205.7" r="8.4"/><circle cx="782.3" cy="1205.9" r="8.4"/><circle cx="782.6" cy="1206.1" r="8.4"/><circle cx="782.8" cy="1206.2" r="8.4"/><circle cx="783.1" cy="1206.4" r="8.4"/><circle cx="783.3" cy="1206.6" r="8.4"/><circle cx="783.6" cy="1206.7" r="8.4"/><circle cx="783.8" cy="1206.9" r="8.4"/><circle cx="784.1" cy="1207.1" r="8.4"/><circle cx="784.5" cy="1207.4" r="8.4"/><circle cx="785.0" cy="1207.7" r="8.4"/><circle cx="785.5" cy="1208.1" r="8.4"/><circle cx="786.0" cy="1208.4" r="8.4"/><circle cx="786.5" cy="1208.7" r="8.4"/><circle cx="787.0" cy="1209.1" r="8.4"/><circle cx="787.5" cy="1209.4" r="8.4"/><circle cx="787.9" cy="1209.7" r="8.4"/><circle cx="788.4" cy="1210.1" r="8.4"/><circle cx="788.9" cy="1210.4" r="8.4"/><circle cx="789.4" cy="1210.7" r="8.4"/><circle cx="789.8" cy="1211.0" r="8.4"/><circle cx="790.3" cy="1211.3" r="8.4"/><circle cx="790.8" cy="1211.7" r="8.4"/><circle cx="791.2" cy="1212.0" r="8.4"/><circle cx="791.7" cy="1212.3" r="8.4"/><circle cx="792.1" cy="1212.6" r="8.4"/><circle cx="792.6" cy="1212.9" r="8.4"/><circle cx="793.0" cy="1213.2" r="8.4"/><circle cx="793.5" cy="1213.6" r="8.4"/><circle cx="793.9" cy="1213.9" r="8.4"/><circle cx="794.4" cy="1214.2" r="8.4"/><circle cx="794.8" cy="1214.5" r="8.4"/><circle cx="795.3" cy="1214.8" r="8.4"/><circle cx="795.7" cy="1215.1" r="8.4"/><circle cx="796.1" cy="1215.4" r="8.4"/><circle cx="796.6" cy="1215.7" r="8.4"/><circle cx="797.0" cy="1216.0" r="8.4"/><circle cx="797.4" cy="1216.3" r="8.4"/><circle cx="797.9" cy="1216.6" r="8.4"/><circle cx="798.3" cy="1216.9" r="8.4"/><circle cx="798.7" cy="1217.2" r="8.4"/><circle cx="799.1" cy="1217.5" r="8.4"/><circle cx="799.5" cy="1217.8" r="8.4"/><circle cx="800.0" cy="1218.1" r="8.4"/><circle cx="800.4" cy="1218.4" r="8.4"/><circle cx="800.8" cy="1218.7" r="8.4"/><circle cx="801.2" cy="1219.0" r="8.4"/><circle cx="801.6" cy="1219.3" r="8.4"/><circle cx="802.0" cy="1219.6" r="8.4"/><circle cx="802.4" cy="1219.9" r="8.4"/><circle cx="802.8" cy="1220.2" r="8.4"/><circle cx="803.2" cy="1220.4" r="8.4"/><circle cx="803.6" cy="1220.7" r="8.4"/><circle cx="804.0" cy="1221.0" r="8.4"/><circle cx="804.4" cy="1221.3" r="8.4"/><circle cx="804.8" cy="1221.6" r="8.4"/><circle cx="805.2" cy="1221.9" r="8.4"/><circle cx="805.6" cy="1222.1" r="8.4"/><circle cx="806.0" cy="1222.4" r="8.4"/><circle cx="806.4" cy="1222.7" r="8.4"/><circle cx="806.8" cy="1223.0" r="8.4"/><circle cx="807.2" cy="1223.3" r="8.4"/><circle cx="807.6" cy="1223.5" r="8.4"/><circle cx="808.0" cy="1223.8" r="8.4"/><circle cx="808.3" cy="1224.1" r="8.4"/><circle cx="808.7" cy="1224.4" r="8.4"/><circle cx="809.1" cy="1224.6" r="8.4"/><circle cx="809.5" cy="1224.9" r="8.4"/><circle cx="809.8" cy="1225.2" r="8.4"/><circle cx="810.2" cy="1225.4" r="8.4"/><circle cx="810.6" cy="1225.7" r="8.4"/><circle cx="811.0" cy="1226.0" r="8.4"/><circle cx="811.3" cy="1226.2" r="8.4"/><circle cx="811.7" cy="1226.5" r="8.4"/><circle cx="812.1" cy="1226.8" r="8.4"/><circle cx="812.4" cy="1227.0" r="8.4"/><circle cx="812.8" cy="1227.3" r="8.4"/><circle cx="813.2" cy="1227.6" r="8.4"/><circle cx="813.5" cy="1227.8" r="8.4"/><circle cx="813.9" cy="1228.1" r="8.4"/><circle cx="814.2" cy="1228.4" r="8.4"/><circle cx="814.6" cy="1228.6" r="8.4"/><circle cx="814.9" cy="1228.9" r="8.4"/><circle cx="815.3" cy="1229.1" r="8.4"/><circle cx="815.7" cy="1229.4" r="8.4"/><circle cx="816.0" cy="1229.6" r="8.4"/><circle cx="816.4" cy="1229.9" r="8.4"/><circle cx="816.7" cy="1230.2" r="8.4"/><circle cx="817.1" cy="1230.4" r="8.4"/><circle cx="817.4" cy="1230.7" r="8.4"/><circle cx="817.7" cy="1230.9" r="8.4"/><circle cx="818.1" cy="1231.2" r="8.4"/><circle cx="818.4" cy="1231.4" r="8.4"/><circle cx="818.8" cy="1231.7" r="8.4"/><circle cx="819.1" cy="1231.9" r="8.4"/><circle cx="819.4" cy="1232.2" r="8.4"/><circle cx="819.8" cy="1232.4" r="8.4"/><circle cx="820.1" cy="1232.7" r="8.4"/><circle cx="820.5" cy="1232.9" r="8.4"/><circle cx="820.8" cy="1233.1" r="8.4"/><circle cx="821.1" cy="1233.4" r="8.4"/><circle cx="821.5" cy="1233.6" r="8.4"/><circle cx="821.8" cy="1233.9" r="8.4"/><circle cx="822.1" cy="1234.1" r="8.4"/><circle cx="822.4" cy="1234.4" r="8.4"/><circle cx="822.8" cy="1234.6" r="8.4"/><circle cx="823.1" cy="1234.8" r="8.4"/><circle cx="823.4" cy="1235.1" r="8.4"/><circle cx="823.7" cy="1235.3" r="8.4"/><circle cx="824.1" cy="1235.5" r="8.4"/><circle cx="824.4" cy="1235.8" r="8.4"/><circle cx="824.7" cy="1236.0" r="8.4"/><circle cx="825.0" cy="1236.3" r="8.4"/><circle cx="825.3" cy="1236.5" r="8.4"/><circle cx="825.6" cy="1236.7" r="8.4"/><circle cx="826.0" cy="1237.0" r="8.4"/><circle cx="826.3" cy="1237.2" r="8.4"/><circle cx="826.6" cy="1237.4" r="8.4"/><circle cx="826.9" cy="1237.6" r="8.4"/><circle cx="827.2" cy="1237.9" r="8.4"/><circle cx="827.5" cy="1238.1" r="8.4"/><circle cx="827.8" cy="1238.3" r="8.4"/><circle cx="828.1" cy="1238.6" r="8.4"/><circle cx="828.4" cy="1238.8" r="8.4"/><circle cx="828.8" cy="1239.0" r="8.4"/><circle cx="829.1" cy="1239.2" r="8.4"/><circle cx="829.4" cy="1239.5" r="8.4"/><circle cx="829.7" cy="1239.7" r="8.4"/><circle cx="830.0" cy="1236.9" r="8.4"/><circle cx="830.1" cy="1240.0" r="8.4"/><circle cx="830.4" cy="1240.3" r="8.4"/><circle cx="830.7" cy="1240.5" r="8.4"/><circle cx="831.0" cy="1240.7" r="8.4"/><circle cx="831.3" cy="1240.9" r="8.4"/><circle cx="831.6" cy="1241.1" r="8.4"/><circle cx="831.9" cy="1241.4" r="8.4"/><circle cx="832.2" cy="1241.6" r="8.4"/><circle cx="832.5" cy="1241.8" r="8.4"/><circle cx="832.8" cy="1242.0" r="8.4"/><circle cx="833.1" cy="1242.2" r="8.4"/><circle cx="833.4" cy="1242.4" r="8.4"/><circle cx="833.7" cy="1242.7" r="8.4"/><circle cx="833.9" cy="1242.9" r="8.4"/><circle cx="834.2" cy="1243.1" r="8.4"/><circle cx="834.5" cy="1243.3" r="8.4"/><circle cx="834.8" cy="1243.5" r="8.4"/><circle cx="835.1" cy="1243.7" r="8.4"/><circle cx="835.4" cy="1243.9" r="8.4"/><circle cx="835.7" cy="1244.2" r="8.4"/><circle cx="835.9" cy="1244.4" r="8.4"/><circle cx="836.2" cy="1244.6" r="8.4"/><circle cx="836.5" cy="1244.8" r="8.4"/><circle cx="836.8" cy="1245.0" r="8.4"/><circle cx="837.1" cy="1245.2" r="8.4"/><circle cx="837.3" cy="1245.4" r="8.4"/><circle cx="837.6" cy="1245.6" r="8.4"/><circle cx="837.9" cy="1245.8" r="8.4"/><circle cx="838.2" cy="1246.0" r="8.4"/><circle cx="838.4" cy="1246.2" r="8.4"/><circle cx="838.7" cy="1246.4" r="8.4"/><circle cx="839.0" cy="1246.7" r="8.4"/><circle cx="839.3" cy="1246.9" r="8.4"/><circle cx="839.5" cy="1247.1" r="8.4"/><circle cx="839.8" cy="1247.3" r="8.4"/><circle cx="840.1" cy="1247.5" r="8.4"/><circle cx="840.3" cy="1247.7" r="8.4"/><circle cx="840.6" cy="1247.9" r="8.4"/><circle cx="840.9" cy="1248.1" r="8.4"/><circle cx="841.2" cy="1248.3" r="8.4"/><circle cx="841.4" cy="1248.5" r="8.4"/><circle cx="841.7" cy="1248.7" r="8.4"/><circle cx="841.9" cy="1248.9" r="8.4"/><circle cx="842.2" cy="1249.1" r="8.4"/><circle cx="842.5" cy="1249.3" r="8.4"/><circle cx="842.7" cy="1249.5" r="8.4"/><circle cx="843.0" cy="1249.7" r="8.4"/><circle cx="843.3" cy="1249.9" r="8.4"/><circle cx="843.5" cy="1250.0" r="8.4"/><circle cx="843.8" cy="1250.2" r="8.4"/><circle cx="844.0" cy="1250.4" r="8.4"/><circle cx="844.3" cy="1250.6" r="8.4"/><circle cx="844.6" cy="1250.8" r="8.4"/><circle cx="844.8" cy="1251.0" r="8.4"/><circle cx="845.1" cy="1251.2" r="8.4"/><circle cx="845.3" cy="1251.4" r="8.4"/><circle cx="845.6" cy="1251.6" r="8.4"/><circle cx="845.8" cy="1251.8" r="8.4"/><circle cx="846.1" cy="1252.0" r="8.4"/><circle cx="846.3" cy="1252.2" r="8.4"/><circle cx="846.6" cy="1252.4" r="8.4"/><circle cx="846.8" cy="1252.5" r="8.4"/><circle cx="847.1" cy="1252.7" r="8.4"/><circle cx="847.3" cy="1252.9" r="8.4"/><circle cx="847.6" cy="1253.1" r="8.4"/><circle cx="847.8" cy="1253.3" r="8.4"/><circle cx="848.1" cy="1253.5" r="8.4"/><circle cx="848.3" cy="1253.7" r="8.4"/><circle cx="848.6" cy="1253.8" r="8.4"/><circle cx="848.8" cy="1254.0" r="8.4"/><circle cx="849.1" cy="1254.2" r="8.4"/><circle cx="849.3" cy="1254.4" r="8.4"/><circle cx="849.6" cy="1254.6" r="8.4"/><circle cx="849.8" cy="1254.8" r="8.4"/><circle cx="850.0" cy="1254.9" r="8.4"/><circle cx="850.3" cy="1255.1" r="8.4"/><circle cx="850.5" cy="1255.3" r="8.4"/><circle cx="850.8" cy="1255.5" r="8.4"/><circle cx="851.0" cy="1255.7" r="8.4"/><circle cx="851.4" cy="1255.9" r="8.4"/><circle cx="851.7" cy="1256.2" r="8.4"/><circle cx="852.1" cy="1256.5" r="8.4"/><circle cx="852.4" cy="1256.7" r="8.4"/><circle cx="852.8" cy="1257.0" r="8.4"/><circle cx="853.1" cy="1257.3" r="8.4"/><circle cx="853.5" cy="1257.5" r="8.4"/><circle cx="853.8" cy="1257.8" r="8.4"/><circle cx="854.2" cy="1258.1" r="8.4"/><circle cx="854.5" cy="1258.3" r="8.4"/><circle cx="854.9" cy="1258.6" r="8.4"/><circle cx="855.2" cy="1258.8" r="8.4"/><circle cx="855.6" cy="1259.1" r="8.4"/><circle cx="855.9" cy="1259.4" r="8.4"/><circle cx="856.2" cy="1259.6" r="8.4"/><circle cx="856.6" cy="1259.9" r="8.4"/><circle cx="856.9" cy="1260.1" r="8.4"/><circle cx="857.3" cy="1260.4" r="8.4"/><circle cx="857.6" cy="1260.6" r="8.4"/><circle cx="857.9" cy="1260.9" r="8.4"/><circle cx="858.3" cy="1261.1" r="8.4"/><circle cx="858.6" cy="1261.4" r="8.4"/><circle cx="858.9" cy="1261.6" r="8.4"/><circle cx="859.2" cy="1261.9" r="8.4"/><circle cx="859.6" cy="1262.1" r="8.4"/><circle cx="859.9" cy="1262.4" r="8.4"/><circle cx="860.2" cy="1262.6" r="8.4"/><circle cx="860.6" cy="1262.9" r="8.4"/><circle cx="860.9" cy="1263.1" r="8.4"/><circle cx="861.2" cy="1263.3" r="8.4"/><circle cx="861.5" cy="1263.6" r="8.4"/><circle cx="861.8" cy="1263.8" r="8.4"/><circle cx="862.2" cy="1264.1" r="8.4"/><circle cx="862.5" cy="1264.3" r="8.4"/><circle cx="862.8" cy="1264.5" r="8.4"/><circle cx="863.1" cy="1264.8" r="8.4"/><circle cx="863.4" cy="1265.0" r="8.4"/><circle cx="863.7" cy="1265.3" r="8.4"/><circle cx="864.0" cy="1265.5" r="8.4"/><circle cx="864.4" cy="1265.7" r="8.4"/><circle cx="864.7" cy="1266.0" r="8.4"/><circle cx="865.0" cy="1266.2" r="8.4"/><circle cx="865.3" cy="1266.4" r="8.4"/><circle cx="865.6" cy="1266.7" r="8.4"/><circle cx="865.9" cy="1266.9" r="8.4"/><circle cx="866.2" cy="1267.1" r="8.4"/><circle cx="866.5" cy="1267.3" r="8.4"/><circle cx="866.8" cy="1267.6" r="8.4"/><circle cx="867.1" cy="1267.8" r="8.4"/><circle cx="867.4" cy="1243.9" r="8.4"/><circle cx="867.5" cy="1268.1" r="8.4"/><circle cx="867.8" cy="1268.3" r="8.4"/><circle cx="868.1" cy="1268.5" r="8.4"/><circle cx="868.4" cy="1268.8" r="8.4"/><circle cx="868.7" cy="1269.0" r="8.4"/><circle cx="869.0" cy="1269.2" r="8.4"/><circle cx="869.3" cy="1269.4" r="8.4"/><circle cx="869.6" cy="1269.7" r="8.4"/><circle cx="869.9" cy="1269.9" r="8.4"/><circle cx="870.2" cy="1270.1" r="8.4"/><circle cx="870.5" cy="1270.3" r="8.4"/><circle cx="870.8" cy="1270.5" r="8.4"/><circle cx="871.0" cy="1270.7" r="8.4"/><circle cx="871.3" cy="1271.0" r="8.4"/><circle cx="871.6" cy="1271.2" r="8.4"/><circle cx="871.9" cy="1271.4" r="8.4"/><circle cx="872.2" cy="1271.6" r="8.4"/><circle cx="872.5" cy="1271.8" r="8.4"/><circle cx="872.8" cy="1272.0" r="8.4"/><circle cx="873.0" cy="1272.2" r="8.4"/><circle cx="873.3" cy="1272.5" r="8.4"/><circle cx="873.6" cy="1272.7" r="8.4"/><circle cx="873.9" cy="1272.9" r="8.4"/><circle cx="874.2" cy="1273.1" r="8.4"/><circle cx="874.5" cy="1273.3" r="8.4"/><circle cx="874.7" cy="1273.5" r="8.4"/><circle cx="875.0" cy="1273.7" r="8.4"/><circle cx="875.3" cy="1273.9" r="8.4"/><circle cx="875.6" cy="1274.1" r="8.4"/><circle cx="875.8" cy="1274.3" r="8.4"/><circle cx="876.1" cy="1274.5" r="8.4"/><circle cx="876.4" cy="1274.7" r="8.4"/><circle cx="876.7" cy="1274.9" r="8.4"/><circle cx="876.9" cy="1275.1" r="8.4"/><circle cx="877.2" cy="1275.3" r="8.4"/><circle cx="877.5" cy="1275.5" r="8.4"/><circle cx="877.7" cy="1275.7" r="8.4"/><circle cx="878.0" cy="1275.9" r="8.4"/><circle cx="878.3" cy="1276.1" r="8.4"/><circle cx="878.5" cy="1276.3" r="8.4"/><circle cx="878.8" cy="1276.5" r="8.4"/><circle cx="879.1" cy="1276.7" r="8.4"/><circle cx="879.3" cy="1276.9" r="8.4"/><circle cx="879.6" cy="1277.1" r="8.4"/><circle cx="879.9" cy="1277.3" r="8.4"/><circle cx="880.1" cy="1277.5" r="8.4"/><circle cx="880.4" cy="1277.7" r="8.4"/><circle cx="880.6" cy="1277.9" r="8.4"/><circle cx="880.9" cy="1278.1" r="8.4"/><circle cx="881.2" cy="1278.3" r="8.4"/><circle cx="881.4" cy="1278.5" r="8.4"/><circle cx="881.7" cy="1278.7" r="8.4"/><circle cx="881.9" cy="1278.8" r="8.4"/><circle cx="882.2" cy="1279.0" r="8.4"/><circle cx="882.4" cy="1279.2" r="8.4"/><circle cx="882.7" cy="1279.4" r="8.4"/><circle cx="883.0" cy="1279.6" r="8.4"/><circle cx="883.2" cy="1279.8" r="8.4"/><circle cx="883.5" cy="1280.0" r="8.4"/><circle cx="883.7" cy="1280.2" r="8.4"/><circle cx="884.0" cy="1280.3" r="8.4"/><circle cx="884.2" cy="1280.5" r="8.4"/><circle cx="884.5" cy="1280.7" r="8.4"/><circle cx="884.7" cy="1280.9" r="8.4"/><circle cx="885.0" cy="1281.1" r="8.4"/><circle cx="885.2" cy="1281.3" r="8.4"/><circle cx="885.5" cy="1281.4" r="8.4"/><circle cx="885.7" cy="1281.6" r="8.4"/><circle cx="886.0" cy="1281.8" r="8.4"/><circle cx="886.2" cy="1282.0" r="8.4"/><circle cx="886.4" cy="1282.2" r="8.4"/><circle cx="886.7" cy="1282.3" r="8.4"/><circle cx="886.9" cy="1282.5" r="8.4"/><circle cx="887.2" cy="1282.7" r="8.4"/><circle cx="887.4" cy="1282.9" r="8.4"/><circle cx="887.7" cy="1283.1" r="8.4"/><circle cx="888.1" cy="1283.4" r="8.4"/><circle cx="888.4" cy="1283.6" r="8.4"/><circle cx="888.7" cy="1283.8" r="8.4"/><circle cx="889.0" cy="1284.1" r="8.4"/><circle cx="889.3" cy="1284.3" r="8.4"/><circle cx="889.6" cy="1284.5" r="8.4"/><circle cx="890.0" cy="1284.7" r="8.4"/><circle cx="890.3" cy="1285.0" r="8.4"/><circle cx="890.6" cy="1285.2" r="8.4"/><circle cx="890.9" cy="1285.4" r="8.4"/><circle cx="891.2" cy="1285.7" r="8.4"/><circle cx="891.5" cy="1285.9" r="8.4"/><circle cx="891.8" cy="1286.1" r="8.4"/><circle cx="892.1" cy="1286.3" r="8.4"/><circle cx="892.4" cy="1286.5" r="8.4"/><circle cx="892.7" cy="1286.8" r="8.4"/><circle cx="893.0" cy="1287.0" r="8.4"/><circle cx="893.3" cy="1287.2" r="8.4"/><circle cx="893.6" cy="1287.4" r="8.4"/><circle cx="893.9" cy="1287.6" r="8.4"/><circle cx="894.2" cy="1287.9" r="8.4"/><circle cx="894.5" cy="1288.1" r="8.4"/><circle cx="894.8" cy="1288.3" r="8.4"/><circle cx="895.1" cy="1288.5" r="8.4"/><circle cx="895.4" cy="1288.7" r="8.4"/><circle cx="895.7" cy="1288.9" r="8.4"/><circle cx="896.0" cy="1289.1" r="8.4"/><circle cx="896.3" cy="1289.4" r="8.4"/><circle cx="896.6" cy="1289.6" r="8.4"/><circle cx="896.9" cy="1289.8" r="8.4"/><circle cx="897.2" cy="1290.0" r="8.4"/><circle cx="897.5" cy="1290.2" r="8.4"/><circle cx="897.8" cy="1290.4" r="8.4"/><circle cx="898.1" cy="1290.6" r="8.4"/><circle cx="898.3" cy="1290.8" r="8.4"/><circle cx="898.6" cy="1291.0" r="8.4"/><circle cx="898.9" cy="1291.2" r="8.4"/><circle cx="899.2" cy="1291.4" r="8.4"/><circle cx="899.5" cy="1291.6" r="8.4"/><circle cx="899.8" cy="1291.8" r="8.4"/><circle cx="900.0" cy="1292.0" r="8.4"/><circle cx="900.3" cy="1292.2" r="8.4"/><circle cx="900.6" cy="1292.4" r="8.4"/><circle cx="900.9" cy="1292.6" r="8.4"/><circle cx="901.2" cy="1292.8" r="8.4"/><circle cx="901.4" cy="1293.0" r="8.4"/><circle cx="901.7" cy="1293.2" r="8.4"/><circle cx="902.0" cy="1293.4" r="8.4"/><circle cx="902.3" cy="1293.6" r="8.4"/><circle cx="902.5" cy="1293.8" r="8.4"/><circle cx="902.8" cy="1294.0" r="8.4"/><circle cx="903.1" cy="1294.2" r="8.4"/><circle cx="903.4" cy="1294.4" r="8.4"/><circle cx="903.6" cy="1294.6" r="8.4"/><circle cx="903.9" cy="1294.8" r="8.4"/><circle cx="904.2" cy="1294.9" r="8.4"/><circle cx="904.4" cy="1295.1" r="8.4"/><circle cx="904.7" cy="1295.3" r="8.4"/><circle cx="905.0" cy="1295.5" r="8.4"/><circle cx="905.2" cy="1295.7" r="8.4"/><circle cx="905.5" cy="1295.9" r="8.4"/><circle cx="905.8" cy="1296.1" r="8.4"/><circle cx="906.0" cy="1296.2" r="8.4"/><circle cx="906.3" cy="1296.4" r="8.4"/><circle cx="906.6" cy="1296.6" r="8.4"/><circle cx="906.8" cy="1296.8" r="8.4"/><circle cx="907.1" cy="1297.0" r="8.4"/><circle cx="907.3" cy="1297.2" r="8.4"/><circle cx="907.6" cy="1297.3" r="8.4"/><circle cx="907.9" cy="1297.5" r="8.4"/><circle cx="908.1" cy="1297.7" r="8.4"/><circle cx="908.4" cy="1297.9" r="8.4"/><circle cx="908.6" cy="1298.1" r="8.4"/><circle cx="908.9" cy="1298.2" r="8.4"/><circle cx="909.1" cy="1298.4" r="8.4"/><circle cx="909.4" cy="1298.6" r="8.4"/><circle cx="909.6" cy="1298.8" r="8.4"/><circle cx="909.9" cy="1298.9" r="8.4"/><circle cx="910.1" cy="1299.1" r="8.4"/><circle cx="910.4" cy="1299.3" r="8.4"/><circle cx="910.7" cy="1299.5" r="8.4"/><circle cx="910.9" cy="1299.6" r="8.4"/><circle cx="911.2" cy="1299.8" r="8.4"/><circle cx="911.4" cy="1300.0" r="8.4"/><circle cx="911.6" cy="1300.1" r="8.4"/><circle cx="911.9" cy="1300.3" r="8.4"/><circle cx="912.2" cy="1300.5" r="8.4"/><circle cx="912.5" cy="1300.7" r="8.4"/><circle cx="912.8" cy="1300.9" r="8.4"/><circle cx="913.1" cy="1301.2" r="8.4"/><circle cx="913.4" cy="1301.4" r="8.4"/><circle cx="913.7" cy="1301.6" r="8.4"/><circle cx="914.0" cy="1301.8" r="8.4"/><circle cx="914.3" cy="1302.0" r="8.4"/><circle cx="914.6" cy="1302.2" r="8.4"/><circle cx="914.9" cy="1302.4" r="8.4"/><circle cx="915.2" cy="1302.6" r="8.4"/><circle cx="915.5" cy="1302.8" r="8.4"/><circle cx="915.8" cy="1303.0" r="8.4"/><circle cx="916.1" cy="1303.2" r="8.4"/><circle cx="916.4" cy="1303.4" r="8.4"/><circle cx="916.7" cy="1303.6" r="8.4"/><circle cx="917.0" cy="1303.8" r="8.4"/><circle cx="917.3" cy="1304.0" r="8.4"/><circle cx="917.6" cy="1304.2" r="8.4"/><circle cx="917.9" cy="1304.4" r="8.4"/><circle cx="918.2" cy="1304.6" r="8.4"/><circle cx="918.4" cy="1304.8" r="8.4"/><circle cx="918.7" cy="1304.9" r="8.4"/><circle cx="919.0" cy="1305.1" r="8.4"/><circle cx="919.3" cy="1305.3" r="8.4"/><circle cx="919.6" cy="1305.5" r="8.4"/><circle cx="919.9" cy="1305.7" r="8.4"/><circle cx="920.2" cy="1305.9" r="8.4"/><circle cx="920.3" cy="1280.2" r="8.4"/><circle cx="920.4" cy="1306.1" r="8.4"/><circle cx="920.7" cy="1306.3" r="8.4"/><circle cx="921.0" cy="1306.5" r="8.4"/><circle cx="921.3" cy="1306.6" r="8.4"/><circle cx="921.6" cy="1306.8" r="8.4"/><circle cx="921.8" cy="1307.0" r="8.4"/><circle cx="922.1" cy="1307.2" r="8.4"/><circle cx="922.4" cy="1307.4" r="8.4"/><circle cx="922.7" cy="1307.5" r="8.4"/><circle cx="922.9" cy="1307.7" r="8.4"/><circle cx="923.2" cy="1307.9" r="8.4"/><circle cx="923.5" cy="1308.1" r="8.4"/><circle cx="923.8" cy="1308.3" r="8.4"/><circle cx="924.0" cy="1308.4" r="8.4"/><circle cx="924.3" cy="1308.6" r="8.4"/><circle cx="924.6" cy="1308.8" r="8.4"/><circle cx="924.8" cy="1309.0" r="8.4"/><circle cx="925.1" cy="1309.1" r="8.4"/><circle cx="925.4" cy="1309.3" r="8.4"/><circle cx="925.6" cy="1309.5" r="8.4"/><circle cx="925.9" cy="1309.7" r="8.4"/><circle cx="926.2" cy="1309.8" r="8.4"/><circle cx="926.4" cy="1310.0" r="8.4"/><circle cx="926.7" cy="1310.2" r="8.4"/><circle cx="927.0" cy="1310.3" r="8.4"/><circle cx="927.2" cy="1310.5" r="8.4"/><circle cx="927.5" cy="1310.7" r="8.4"/><circle cx="927.7" cy="1310.8" r="8.4"/><circle cx="928.0" cy="1311.0" r="8.4"/><circle cx="928.3" cy="1311.2" r="8.4"/><circle cx="928.5" cy="1311.3" r="8.4"/><circle cx="928.8" cy="1311.5" r="8.4"/><circle cx="929.0" cy="1311.7" r="8.4"/><circle cx="929.3" cy="1311.8" r="8.4"/><circle cx="929.3" cy="1311.8" r="8.4"/></g></g><line x1="239.60" y1="1016.00" x2="508.40" y2="1047.40" stroke="#00ffff" stroke-width="4.6" stroke-linecap="round"/><line x1="239.60" y1="1079.60" x2="530.30" y2="1105.70" stroke="#0000ff" stroke-width="4.6" stroke-linecap="round"/><line x1="628.20" y1="1082.70" x2="930.00" y2="1285.50" stroke="#00ffff" stroke-width="4.6" stroke-linecap="round"/><line x1="652.60" y1="1118.90" x2="930.50" y2="1312.00" stroke="#0000ff" stroke-width="4.6" stroke-linecap="round"/><line x1="365.00" y1="944.50" x2="430.03" y2="1005.69" stroke="#000" stroke-width="3.8" stroke-linecap="butt"/><polygon points="444.60,1019.40 423.44,1009.79 433.72,998.86" fill="#000" stroke="#000" stroke-width="1" stroke-linejoin="round"/><line x1="795.70" y1="1062.50" x2="828.81" y2="1174.13" stroke="#000" stroke-width="3.8" stroke-linecap="butt"/><polygon points="834.50,1193.30 821.05,1174.34 835.43,1170.08" fill="#000" stroke="#000" stroke-width="1" stroke-linejoin="round"/><line x1="349.30" y1="1203.90" x2="416.45" y2="1122.80" stroke="#000" stroke-width="3.8" stroke-linecap="butt"/><polygon points="429.20,1107.40 420.95,1129.13 409.39,1119.56" fill="#000" stroke="#000" stroke-width="1" stroke-linejoin="round"/><line x1="714.30" y1="1302.60" x2="803.10" y2="1255.82" stroke="#000" stroke-width="3.8" stroke-linecap="butt"/><polygon points="820.80,1246.50 804.83,1263.39 797.84,1250.12" fill="#000" stroke="#000" stroke-width="1" stroke-linejoin="round"/><text transform="translate(255.55,931.60) scale(1.0318,1)" style="font-size:32px;font-style:italic;" fill="#000">k</text><text transform="translate(279.28,931.70) scale(1.1958,1)" style="font-size:34px;" fill="#000">=</text><text transform="translate(308.44,932.00) scale(1.1516,1)" style="font-size:34px;" fill="#000">−</text><text transform="translate(329.69,932.20) scale(1.0130,1)" style="font-size:34px;" fill="#000">0.15</text><text transform="translate(713.75,1044.50) scale(1.0318,1)" style="font-size:32px;font-style:italic;" fill="#000">k</text><text transform="translate(737.48,1044.60) scale(1.1958,1)" style="font-size:34px;" fill="#000">=</text><text transform="translate(766.64,1044.90) scale(1.1516,1)" style="font-size:34px;" fill="#000">−</text><text transform="translate(787.90,1045.10) scale(1.0057,1)" style="font-size:34px;" fill="#000">0.87</text><text transform="translate(242.95,1242.40) scale(1.0318,1)" style="font-size:32px;font-style:italic;" fill="#000">k</text><text transform="translate(266.68,1242.50) scale(1.1958,1)" style="font-size:34px;" fill="#000">=</text><text transform="translate(295.84,1242.80) scale(1.1516,1)" style="font-size:34px;" fill="#000">−</text><text transform="translate(317.08,1243.00) scale(1.0168,1)" style="font-size:34px;" fill="#000">0.12</text><text transform="translate(617.75,1345.70) scale(1.0318,1)" style="font-size:32px;font-style:italic;" fill="#000">k</text><text transform="translate(641.48,1345.80) scale(1.1958,1)" style="font-size:34px;" fill="#000">=</text><text transform="translate(670.64,1346.10) scale(1.1516,1)" style="font-size:34px;" fill="#000">−</text><text transform="translate(691.89,1346.30) scale(1.0139,1)" style="font-size:34px;" fill="#000">0.90</text><rect x="112.9" y="826.6" width="826.4" height="653.6999999999999" fill="none" stroke="#000" stroke-width="4.4"/><line x1="114.60" y1="826.60" x2="125.70" y2="826.60" stroke="#000" stroke-width="4.0" stroke-linecap="butt"/><line x1="114.60" y1="940.81" x2="119.10" y2="940.81" stroke="#000" stroke-width="4.0" stroke-linecap="butt"/><line x1="114.60" y1="912.04" x2="119.10" y2="912.04" stroke="#000" stroke-width="4.0" stroke-linecap="butt"/><line x1="114.60" y1="891.62" x2="119.10" y2="891.62" stroke="#000" stroke-width="4.0" stroke-linecap="butt"/><line x1="114.60" y1="875.79" x2="119.10" y2="875.79" stroke="#000" stroke-width="4.0" stroke-linecap="butt"/><line x1="114.60" y1="862.85" x2="119.10" y2="862.85" stroke="#000" stroke-width="4.0" stroke-linecap="butt"/><line x1="114.60" y1="851.91" x2="119.10" y2="851.91" stroke="#000" stroke-width="4.0" stroke-linecap="butt"/><line x1="114.60" y1="842.44" x2="119.10" y2="842.44" stroke="#000" stroke-width="4.0" stroke-linecap="butt"/><line x1="114.60" y1="834.08" x2="119.10" y2="834.08" stroke="#000" stroke-width="4.0" stroke-linecap="butt"/><line x1="114.60" y1="990.00" x2="125.70" y2="990.00" stroke="#000" stroke-width="4.0" stroke-linecap="butt"/><line x1="114.60" y1="1104.21" x2="119.10" y2="1104.21" stroke="#000" stroke-width="4.0" stroke-linecap="butt"/><line x1="114.60" y1="1075.44" x2="119.10" y2="1075.44" stroke="#000" stroke-width="4.0" stroke-linecap="butt"/><line x1="114.60" y1="1055.02" x2="119.10" y2="1055.02" stroke="#000" stroke-width="4.0" stroke-linecap="butt"/><line x1="114.60" y1="1039.19" x2="119.10" y2="1039.19" stroke="#000" stroke-width="4.0" stroke-linecap="butt"/><line x1="114.60" y1="1026.25" x2="119.10" y2="1026.25" stroke="#000" stroke-width="4.0" stroke-linecap="butt"/><line x1="114.60" y1="1015.31" x2="119.10" y2="1015.31" stroke="#000" stroke-width="4.0" stroke-linecap="butt"/><line x1="114.60" y1="1005.84" x2="119.10" y2="1005.84" stroke="#000" stroke-width="4.0" stroke-linecap="butt"/><line x1="114.60" y1="997.48" x2="119.10" y2="997.48" stroke="#000" stroke-width="4.0" stroke-linecap="butt"/><line x1="114.60" y1="1153.40" x2="125.70" y2="1153.40" stroke="#000" stroke-width="4.0" stroke-linecap="butt"/><line x1="114.60" y1="1267.61" x2="119.10" y2="1267.61" stroke="#000" stroke-width="4.0" stroke-linecap="butt"/><line x1="114.60" y1="1238.84" x2="119.10" y2="1238.84" stroke="#000" stroke-width="4.0" stroke-linecap="butt"/><line x1="114.60" y1="1218.42" x2="119.10" y2="1218.42" stroke="#000" stroke-width="4.0" stroke-linecap="butt"/><line x1="114.60" y1="1202.59" x2="119.10" y2="1202.59" stroke="#000" stroke-width="4.0" stroke-linecap="butt"/><line x1="114.60" y1="1189.65" x2="119.10" y2="1189.65" stroke="#000" stroke-width="4.0" stroke-linecap="butt"/><line x1="114.60" y1="1178.71" x2="119.10" y2="1178.71" stroke="#000" stroke-width="4.0" stroke-linecap="butt"/><line x1="114.60" y1="1169.24" x2="119.10" y2="1169.24" stroke="#000" stroke-width="4.0" stroke-linecap="butt"/><line x1="114.60" y1="1160.88" x2="119.10" y2="1160.88" stroke="#000" stroke-width="4.0" stroke-linecap="butt"/><line x1="114.60" y1="1316.80" x2="125.70" y2="1316.80" stroke="#000" stroke-width="4.0" stroke-linecap="butt"/><line x1="114.60" y1="1431.01" x2="119.10" y2="1431.01" stroke="#000" stroke-width="4.0" stroke-linecap="butt"/><line x1="114.60" y1="1402.24" x2="119.10" y2="1402.24" stroke="#000" stroke-width="4.0" stroke-linecap="butt"/><line x1="114.60" y1="1381.82" x2="119.10" y2="1381.82" stroke="#000" stroke-width="4.0" stroke-linecap="butt"/><line x1="114.60" y1="1365.99" x2="119.10" y2="1365.99" stroke="#000" stroke-width="4.0" stroke-linecap="butt"/><line x1="114.60" y1="1353.05" x2="119.10" y2="1353.05" stroke="#000" stroke-width="4.0" stroke-linecap="butt"/><line x1="114.60" y1="1342.11" x2="119.10" y2="1342.11" stroke="#000" stroke-width="4.0" stroke-linecap="butt"/><line x1="114.60" y1="1332.64" x2="119.10" y2="1332.64" stroke="#000" stroke-width="4.0" stroke-linecap="butt"/><line x1="114.60" y1="1324.28" x2="119.10" y2="1324.28" stroke="#000" stroke-width="4.0" stroke-linecap="butt"/><line x1="114.60" y1="1480.20" x2="125.70" y2="1480.20" stroke="#000" stroke-width="4.0" stroke-linecap="butt"/><line x1="176.60" y1="1478.60" x2="176.60" y2="1468.10" stroke="#000" stroke-width="4.0" stroke-linecap="butt"/><line x1="388.27" y1="1478.60" x2="388.27" y2="1468.10" stroke="#000" stroke-width="4.0" stroke-linecap="butt"/><line x1="599.94" y1="1478.60" x2="599.94" y2="1468.10" stroke="#000" stroke-width="4.0" stroke-linecap="butt"/><line x1="811.61" y1="1478.60" x2="811.61" y2="1468.10" stroke="#000" stroke-width="4.0" stroke-linecap="butt"/><line x1="129.64" y1="1478.60" x2="129.64" y2="1473.90" stroke="#000" stroke-width="4.0" stroke-linecap="butt"/><line x1="143.81" y1="1478.60" x2="143.81" y2="1473.90" stroke="#000" stroke-width="4.0" stroke-linecap="butt"/><line x1="156.09" y1="1478.60" x2="156.09" y2="1473.90" stroke="#000" stroke-width="4.0" stroke-linecap="butt"/><line x1="166.91" y1="1478.60" x2="166.91" y2="1473.90" stroke="#000" stroke-width="4.0" stroke-linecap="butt"/><line x1="240.32" y1="1478.60" x2="240.32" y2="1473.90" stroke="#000" stroke-width="4.0" stroke-linecap="butt"/><line x1="277.59" y1="1478.60" x2="277.59" y2="1473.90" stroke="#000" stroke-width="4.0" stroke-linecap="butt"/><line x1="304.04" y1="1478.60" x2="304.04" y2="1473.90" stroke="#000" stroke-width="4.0" stroke-linecap="butt"/><line x1="324.55" y1="1478.60" x2="324.55" y2="1473.90" stroke="#000" stroke-width="4.0" stroke-linecap="butt"/><line x1="341.31" y1="1478.60" x2="341.31" y2="1473.90" stroke="#000" stroke-width="4.0" stroke-linecap="butt"/><line x1="355.48" y1="1478.60" x2="355.48" y2="1473.90" stroke="#000" stroke-width="4.0" stroke-linecap="butt"/><line x1="367.76" y1="1478.60" x2="367.76" y2="1473.90" stroke="#000" stroke-width="4.0" stroke-linecap="butt"/><line x1="378.58" y1="1478.60" x2="378.58" y2="1473.90" stroke="#000" stroke-width="4.0" stroke-linecap="butt"/><line x1="451.99" y1="1478.60" x2="451.99" y2="1473.90" stroke="#000" stroke-width="4.0" stroke-linecap="butt"/><line x1="489.26" y1="1478.60" x2="489.26" y2="1473.90" stroke="#000" stroke-width="4.0" stroke-linecap="butt"/><line x1="515.71" y1="1478.60" x2="515.71" y2="1473.90" stroke="#000" stroke-width="4.0" stroke-linecap="butt"/><line x1="536.22" y1="1478.60" x2="536.22" y2="1473.90" stroke="#000" stroke-width="4.0" stroke-linecap="butt"/><line x1="552.98" y1="1478.60" x2="552.98" y2="1473.90" stroke="#000" stroke-width="4.0" stroke-linecap="butt"/><line x1="567.15" y1="1478.60" x2="567.15" y2="1473.90" stroke="#000" stroke-width="4.0" stroke-linecap="butt"/><line x1="579.43" y1="1478.60" x2="579.43" y2="1473.90" stroke="#000" stroke-width="4.0" stroke-linecap="butt"/><line x1="590.25" y1="1478.60" x2="590.25" y2="1473.90" stroke="#000" stroke-width="4.0" stroke-linecap="butt"/><line x1="663.66" y1="1478.60" x2="663.66" y2="1473.90" stroke="#000" stroke-width="4.0" stroke-linecap="butt"/><line x1="700.93" y1="1478.60" x2="700.93" y2="1473.90" stroke="#000" stroke-width="4.0" stroke-linecap="butt"/><line x1="727.38" y1="1478.60" x2="727.38" y2="1473.90" stroke="#000" stroke-width="4.0" stroke-linecap="butt"/><line x1="747.89" y1="1478.60" x2="747.89" y2="1473.90" stroke="#000" stroke-width="4.0" stroke-linecap="butt"/><line x1="764.65" y1="1478.60" x2="764.65" y2="1473.90" stroke="#000" stroke-width="4.0" stroke-linecap="butt"/><line x1="778.82" y1="1478.60" x2="778.82" y2="1473.90" stroke="#000" stroke-width="4.0" stroke-linecap="butt"/><line x1="791.10" y1="1478.60" x2="791.10" y2="1473.90" stroke="#000" stroke-width="4.0" stroke-linecap="butt"/><line x1="801.92" y1="1478.60" x2="801.92" y2="1473.90" stroke="#000" stroke-width="4.0" stroke-linecap="butt"/><line x1="875.33" y1="1478.60" x2="875.33" y2="1473.90" stroke="#000" stroke-width="4.0" stroke-linecap="butt"/><line x1="912.60" y1="1478.60" x2="912.60" y2="1473.90" stroke="#000" stroke-width="4.0" stroke-linecap="butt"/><text transform="translate(49.20,838.20) scale(1.0634,1)" style="font-size:30.5px;" fill="#000">10</text><text transform="translate(80.83,825.90) scale(0.9979,1)" style="font-size:21px;" fill="#000">-4</text><text transform="translate(49.20,1001.60) scale(1.0634,1)" style="font-size:30.5px;" fill="#000">10</text><text transform="translate(80.81,989.30) scale(1.0216,1)" style="font-size:21px;" fill="#000">-5</text><text transform="translate(49.20,1165.00) scale(1.0634,1)" style="font-size:30.5px;" fill="#000">10</text><text transform="translate(80.82,1152.70) scale(1.0119,1)" style="font-size:21px;" fill="#000">-6</text><text transform="translate(49.20,1328.40) scale(1.0634,1)" style="font-size:30.5px;" fill="#000">10</text><text transform="translate(80.83,1316.10) scale(1.0055,1)" style="font-size:21px;" fill="#000">-7</text><text transform="translate(49.20,1491.80) scale(1.0634,1)" style="font-size:30.5px;" fill="#000">10</text><text transform="translate(80.82,1479.50) scale(1.0170,1)" style="font-size:21px;" fill="#000">-8</text><text transform="translate(168.54,1518.50) scale(1.0000,1)" style="font-size:30.5px;" fill="#000">1</text><text transform="translate(372.38,1518.50) scale(1.0000,1)" style="font-size:30.5px;" fill="#000">10</text><text transform="translate(576.42,1518.50) scale(1.0000,1)" style="font-size:30.5px;" fill="#000">100</text><text transform="translate(780.47,1518.50) scale(1.0000,1)" style="font-size:30.5px;" fill="#000">1000</text><text transform="translate(475.82,1573.50) scale(1.0485,1)" style="font-size:33px;" fill="#000">logt (s)</text><text transform="translate(128.48,874.50) scale(1.0697,1)" style="font-size:45px;" fill="#000">(b)</text><circle cx="755.3" cy="863.6" r="8.4" fill="url(#gB)"/><circle cx="755.3" cy="906.3" r="8.4" fill="url(#gR)"/><text transform="translate(803.12,875.40) scale(0.9964,1)" style="font-size:34px;" fill="#000">HNSS1</text><text transform="translate(803.12,917.90) scale(1.0022,1)" style="font-size:34px;" fill="#000">HNSS2</text><text transform="translate(35.20,1245.50) rotate(-90) scale(1.03,1)" style="font-size:33px"><tspan style="font-size:33px">logi (A·cm</tspan><tspan style="font-size:23px" dy="-13.0">-2</tspan><tspan style="font-size:33px" dy="13.0">)</tspan></text>
</svg></body></html>
